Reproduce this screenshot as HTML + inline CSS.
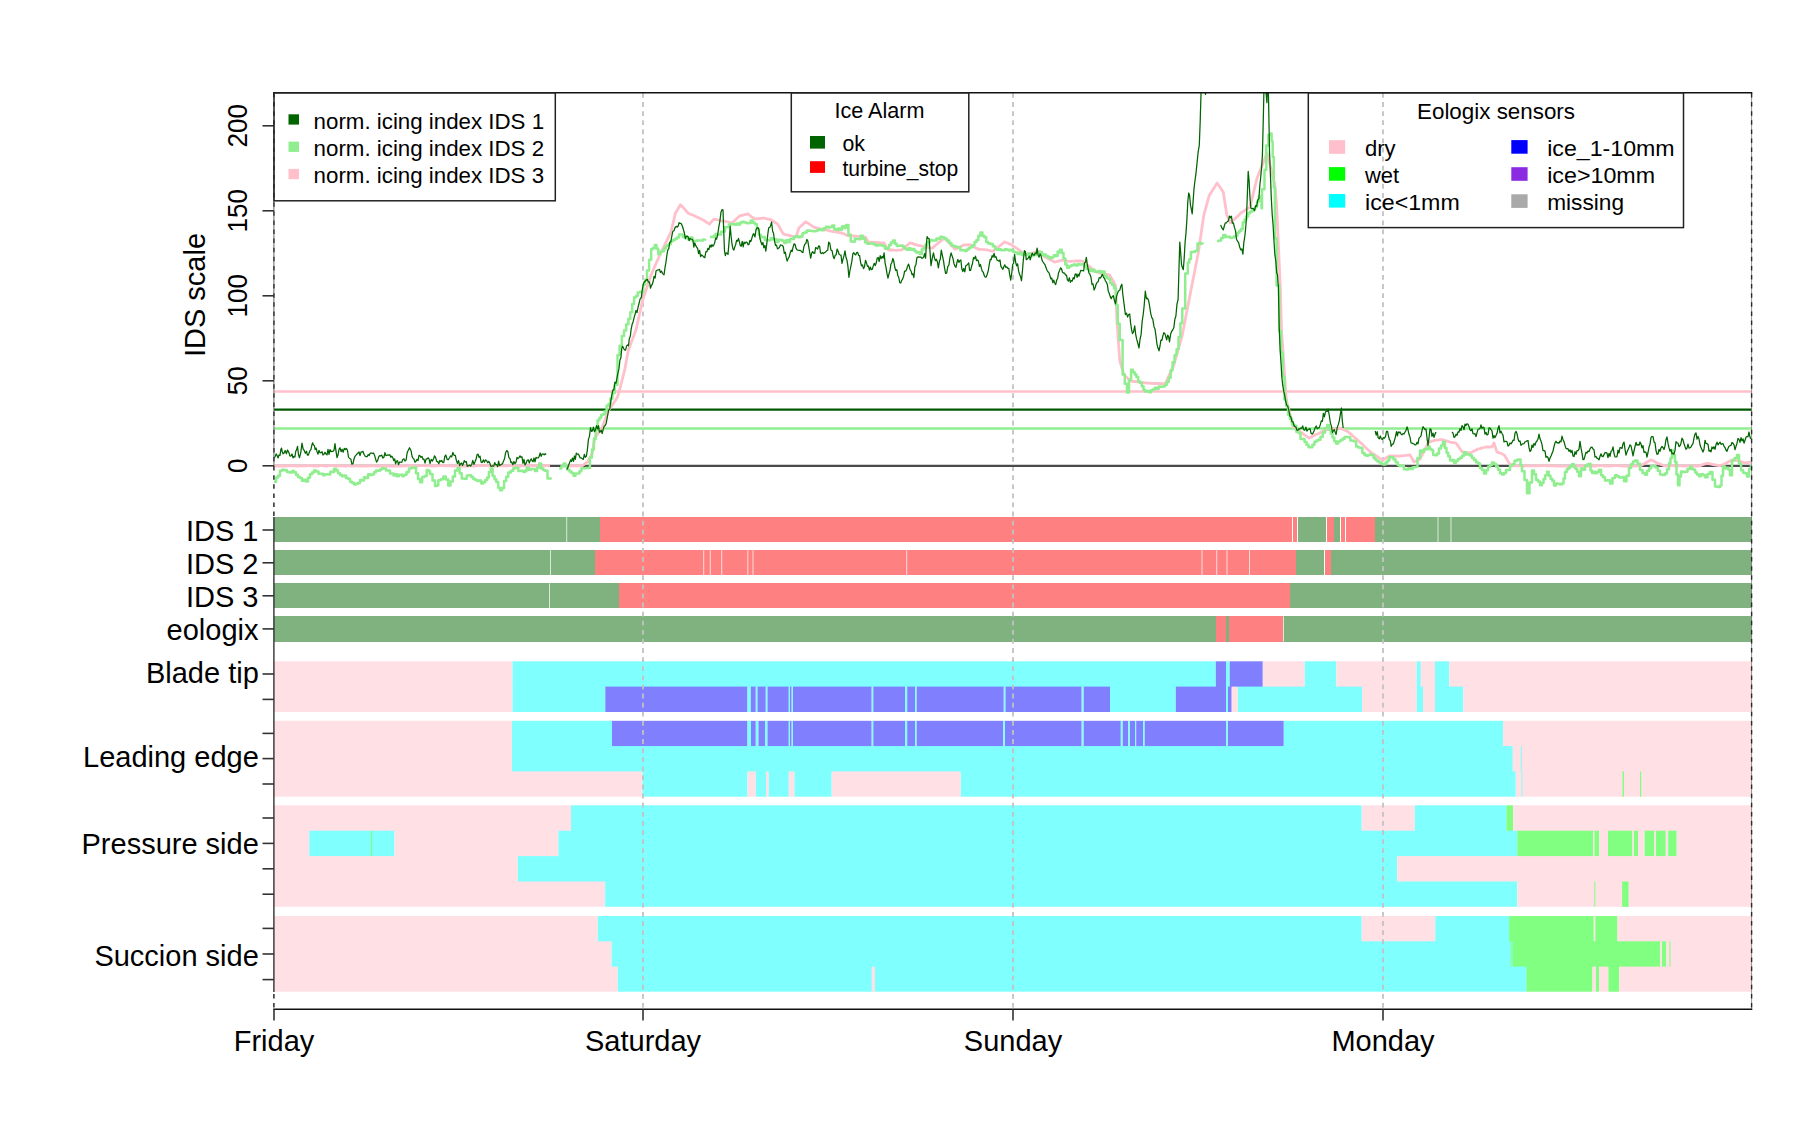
<!DOCTYPE html><html><head><meta charset="utf-8"><style>html,body{margin:0;padding:0;background:#fff;}svg{display:block;}</style></head><body>
<svg width="1800" height="1125" viewBox="0 0 1800 1125" font-family='"Liberation Sans", sans-serif'>
<rect x="0" y="0" width="1800" height="1125" fill="#fff"/>
<g shape-rendering="crispEdges">
<rect x="274" y="517" width="326" height="25.2" fill="#80b280"/>
<rect x="600" y="517" width="692" height="25.2" fill="#ff8080"/>
<rect x="1293" y="517" width="4" height="25.2" fill="#ff8080"/>
<rect x="1298" y="517" width="28" height="25.2" fill="#80b280"/>
<rect x="1326.8" y="517" width="7.2" height="25.2" fill="#ff8080"/>
<rect x="1334" y="517" width="6.3" height="25.2" fill="#80b280"/>
<rect x="1340.7" y="517" width="4.5" height="25.2" fill="#ff8080"/>
<rect x="1345.8" y="517" width="28.9" height="25.2" fill="#ff8080"/>
<rect x="1374.7" y="517" width="377.3" height="25.2" fill="#80b280"/>
<rect x="274" y="550.2" width="321" height="25.2" fill="#80b280"/>
<rect x="595" y="550.2" width="700.5" height="25.2" fill="#ff8080"/>
<rect x="1295.5" y="550.2" width="28.5" height="25.2" fill="#80b280"/>
<rect x="1324.8" y="550.2" width="5.7" height="25.2" fill="#ff8080"/>
<rect x="1330.5" y="550.2" width="421.5" height="25.2" fill="#80b280"/>
<rect x="274" y="583.3" width="345" height="25.1" fill="#80b280"/>
<rect x="619" y="583.3" width="671" height="25.1" fill="#ff8080"/>
<rect x="1290" y="583.3" width="462" height="25.1" fill="#80b280"/>
<rect x="274" y="616.3" width="941.5" height="25.2" fill="#80b280"/>
<rect x="1215.5" y="616.3" width="10.3" height="25.2" fill="#ff8080"/>
<rect x="1225.8" y="616.3" width="3.4" height="25.2" fill="#80b280"/>
<rect x="1229.2" y="616.3" width="54.1" height="25.2" fill="#ff8080"/>
<rect x="1283.3" y="616.3" width="468.7" height="25.2" fill="#80b280"/>
</g>
<rect x="566.2" y="517" width="1" height="25.2" fill="#fff" opacity="0.7"/>
<rect x="1437.5" y="517" width="1" height="25.2" fill="#fff" opacity="0.7"/>
<rect x="1450.5" y="517" width="1" height="25.2" fill="#fff" opacity="0.7"/>
<rect x="550" y="550.2" width="1" height="25.2" fill="#fff" opacity="0.7"/>
<rect x="703.2" y="550.2" width="1" height="25.2" fill="#fff" opacity="0.7"/>
<rect x="709.8" y="550.2" width="1" height="25.2" fill="#fff" opacity="0.7"/>
<rect x="721.2" y="550.2" width="1" height="25.2" fill="#fff" opacity="0.7"/>
<rect x="747.3" y="550.2" width="1" height="25.2" fill="#fff" opacity="0.7"/>
<rect x="752.5" y="550.2" width="1" height="25.2" fill="#fff" opacity="0.7"/>
<rect x="906.2" y="550.2" width="1" height="25.2" fill="#fff" opacity="0.7"/>
<rect x="1201.5" y="550.2" width="1" height="25.2" fill="#fff" opacity="0.7"/>
<rect x="1216.2" y="550.2" width="1" height="25.2" fill="#fff" opacity="0.7"/>
<rect x="1226.5" y="550.2" width="1" height="25.2" fill="#fff" opacity="0.7"/>
<rect x="1249" y="550.2" width="1" height="25.2" fill="#fff" opacity="0.7"/>
<rect x="549" y="583.3" width="1" height="25.1" fill="#fff" opacity="0.7"/>
<rect x="1283" y="616.3" width="1" height="25.2" fill="#fff" opacity="0.7"/>
<g>
<rect x="274" y="661.3" width="238.5" height="26" fill="#ffe0e5"/>
<rect x="512.5" y="661.3" width="703.3" height="26" fill="#80ffff"/>
<rect x="1215.8" y="661.3" width="10.2" height="26" fill="#8080ff"/>
<rect x="1226" y="661.3" width="3.7" height="26" fill="#80ffff"/>
<rect x="1229.7" y="661.3" width="33.1" height="26" fill="#8080ff"/>
<rect x="1262.8" y="661.3" width="41.9" height="26" fill="#ffe0e5"/>
<rect x="1304.7" y="661.3" width="31.6" height="26" fill="#80ffff"/>
<rect x="1336.3" y="661.3" width="80.4" height="26" fill="#ffe0e5"/>
<rect x="1416.7" y="661.3" width="4.1" height="26" fill="#80ffff"/>
<rect x="1420.8" y="661.3" width="14.2" height="26" fill="#ffe0e5"/>
<rect x="1435" y="661.3" width="14.2" height="26" fill="#80ffff"/>
<rect x="1449.2" y="661.3" width="302.8" height="26" fill="#ffe0e5"/>
<rect x="274" y="686.6" width="238.5" height="25.4" fill="#ffe0e5"/>
<rect x="512.5" y="686.6" width="92.8" height="25.4" fill="#80ffff"/>
<rect x="605.3" y="686.6" width="142.2" height="25.4" fill="#8080ff"/>
<rect x="747.5" y="686.6" width="3.3" height="25.4" fill="#80ffff"/>
<rect x="750.8" y="686.6" width="5" height="25.4" fill="#8080ff"/>
<rect x="755.8" y="686.6" width="1.7" height="25.4" fill="#80ffff"/>
<rect x="757.5" y="686.6" width="8.3" height="25.4" fill="#8080ff"/>
<rect x="765.8" y="686.6" width="1.7" height="25.4" fill="#80ffff"/>
<rect x="767.5" y="686.6" width="21.3" height="25.4" fill="#8080ff"/>
<rect x="788.8" y="686.6" width="1.2" height="25.4" fill="#80ffff"/>
<rect x="790" y="686.6" width="1.7" height="25.4" fill="#8080ff"/>
<rect x="791.7" y="686.6" width="1.3" height="25.4" fill="#80ffff"/>
<rect x="793" y="686.6" width="78.7" height="25.4" fill="#8080ff"/>
<rect x="871.7" y="686.6" width="1.6" height="25.4" fill="#80ffff"/>
<rect x="873.3" y="686.6" width="31.7" height="25.4" fill="#8080ff"/>
<rect x="905" y="686.6" width="2.2" height="25.4" fill="#80ffff"/>
<rect x="907.2" y="686.6" width="7.8" height="25.4" fill="#8080ff"/>
<rect x="915" y="686.6" width="1.7" height="25.4" fill="#80ffff"/>
<rect x="916.7" y="686.6" width="87.1" height="25.4" fill="#8080ff"/>
<rect x="1003.8" y="686.6" width="1.7" height="25.4" fill="#80ffff"/>
<rect x="1005.5" y="686.6" width="76.2" height="25.4" fill="#8080ff"/>
<rect x="1081.7" y="686.6" width="2" height="25.4" fill="#80ffff"/>
<rect x="1083.7" y="686.6" width="26.3" height="25.4" fill="#8080ff"/>
<rect x="1110" y="686.6" width="65.8" height="25.4" fill="#80ffff"/>
<rect x="1175.8" y="686.6" width="50.2" height="25.4" fill="#8080ff"/>
<rect x="1226" y="686.6" width="2" height="25.4" fill="#80ffff"/>
<rect x="1228" y="686.6" width="3.7" height="25.4" fill="#8080ff"/>
<rect x="1231.7" y="686.6" width="6.1" height="25.4" fill="#ffe0e5"/>
<rect x="1237.8" y="686.6" width="124.4" height="25.4" fill="#80ffff"/>
<rect x="1362.2" y="686.6" width="54.5" height="25.4" fill="#ffe0e5"/>
<rect x="1416.7" y="686.6" width="6.3" height="25.4" fill="#80ffff"/>
<rect x="1423" y="686.6" width="12" height="25.4" fill="#ffe0e5"/>
<rect x="1435" y="686.6" width="28.3" height="25.4" fill="#80ffff"/>
<rect x="1463.3" y="686.6" width="288.7" height="25.4" fill="#ffe0e5"/>
<rect x="274" y="720.8" width="238" height="26" fill="#ffe0e5"/>
<rect x="512" y="720.8" width="100" height="26" fill="#80ffff"/>
<rect x="612" y="720.8" width="135.5" height="26" fill="#8080ff"/>
<rect x="747.5" y="720.8" width="3.5" height="26" fill="#80ffff"/>
<rect x="751" y="720.8" width="4.8" height="26" fill="#8080ff"/>
<rect x="755.8" y="720.8" width="2.7" height="26" fill="#80ffff"/>
<rect x="758.5" y="720.8" width="6.5" height="26" fill="#8080ff"/>
<rect x="765" y="720.8" width="2.5" height="26" fill="#80ffff"/>
<rect x="767.5" y="720.8" width="21.3" height="26" fill="#8080ff"/>
<rect x="788.8" y="720.8" width="1.2" height="26" fill="#80ffff"/>
<rect x="790" y="720.8" width="1.7" height="26" fill="#8080ff"/>
<rect x="791.7" y="720.8" width="1.3" height="26" fill="#80ffff"/>
<rect x="793" y="720.8" width="78.7" height="26" fill="#8080ff"/>
<rect x="871.7" y="720.8" width="1.6" height="26" fill="#80ffff"/>
<rect x="873.3" y="720.8" width="31.7" height="26" fill="#8080ff"/>
<rect x="905" y="720.8" width="2.2" height="26" fill="#80ffff"/>
<rect x="907.2" y="720.8" width="7.8" height="26" fill="#8080ff"/>
<rect x="915" y="720.8" width="1.7" height="26" fill="#80ffff"/>
<rect x="916.7" y="720.8" width="86.6" height="26" fill="#8080ff"/>
<rect x="1003.3" y="720.8" width="1.7" height="26" fill="#80ffff"/>
<rect x="1005" y="720.8" width="76.7" height="26" fill="#8080ff"/>
<rect x="1081.7" y="720.8" width="2" height="26" fill="#80ffff"/>
<rect x="1083.7" y="720.8" width="37.1" height="26" fill="#8080ff"/>
<rect x="1120.8" y="720.8" width="2" height="26" fill="#80ffff"/>
<rect x="1122.8" y="720.8" width="5.5" height="26" fill="#8080ff"/>
<rect x="1128.3" y="720.8" width="1.7" height="26" fill="#80ffff"/>
<rect x="1130" y="720.8" width="5" height="26" fill="#8080ff"/>
<rect x="1135" y="720.8" width="1.2" height="26" fill="#80ffff"/>
<rect x="1136.2" y="720.8" width="6.8" height="26" fill="#8080ff"/>
<rect x="1143" y="720.8" width="1.7" height="26" fill="#80ffff"/>
<rect x="1144.7" y="720.8" width="81.5" height="26" fill="#8080ff"/>
<rect x="1226.2" y="720.8" width="1.8" height="26" fill="#80ffff"/>
<rect x="1228" y="720.8" width="55.8" height="26" fill="#8080ff"/>
<rect x="1283.8" y="720.8" width="219.2" height="26" fill="#80ffff"/>
<rect x="1503" y="720.8" width="249" height="26" fill="#ffe0e5"/>
<rect x="274" y="746.1" width="238" height="26" fill="#ffe0e5"/>
<rect x="512" y="746.1" width="1000.8" height="26" fill="#80ffff"/>
<rect x="1512.8" y="746.1" width="239.2" height="26" fill="#ffe0e5"/>
<rect x="1520.8" y="746.1" width="1" height="26" fill="#80ffff"/>
<rect x="274" y="771.4" width="368.5" height="25.3" fill="#ffe0e5"/>
<rect x="642.5" y="771.4" width="105" height="25.3" fill="#80ffff"/>
<rect x="747.5" y="771.4" width="8.3" height="25.3" fill="#ffe0e5"/>
<rect x="755.8" y="771.4" width="10.2" height="25.3" fill="#80ffff"/>
<rect x="766" y="771.4" width="2.7" height="25.3" fill="#ffe0e5"/>
<rect x="768.7" y="771.4" width="20.1" height="25.3" fill="#80ffff"/>
<rect x="788.8" y="771.4" width="5.7" height="25.3" fill="#ffe0e5"/>
<rect x="794.5" y="771.4" width="37.2" height="25.3" fill="#80ffff"/>
<rect x="831.7" y="771.4" width="129.1" height="25.3" fill="#ffe0e5"/>
<rect x="960.8" y="771.4" width="555" height="25.3" fill="#80ffff"/>
<rect x="1515.8" y="771.4" width="236.2" height="25.3" fill="#ffe0e5"/>
<rect x="1521.5" y="771.4" width="1" height="25.3" fill="#80ffff"/>
<rect x="1622.5" y="771.4" width="1.5" height="25.3" fill="#80ff80"/>
<rect x="1640" y="771.4" width="1.2" height="25.3" fill="#80ff80"/>
<rect x="274" y="805.3" width="297" height="26.1" fill="#ffe0e5"/>
<rect x="571" y="805.3" width="790.7" height="26.1" fill="#80ffff"/>
<rect x="1361.7" y="805.3" width="53.1" height="26.1" fill="#ffe0e5"/>
<rect x="1414.8" y="805.3" width="91.6" height="26.1" fill="#80ffff"/>
<rect x="1506.4" y="805.3" width="6.8" height="26.1" fill="#80ff80"/>
<rect x="1513.2" y="805.3" width="238.8" height="26.1" fill="#ffe0e5"/>
<rect x="274" y="830.7" width="35.3" height="26.1" fill="#ffe0e5"/>
<rect x="309.3" y="830.7" width="85.2" height="26.1" fill="#80ffff"/>
<rect x="371" y="830.7" width="1.2" height="26.1" fill="#80ff80"/>
<rect x="394.5" y="830.7" width="163.9" height="26.1" fill="#ffe0e5"/>
<rect x="558.4" y="830.7" width="958.9" height="26.1" fill="#80ffff"/>
<rect x="1517.3" y="830.7" width="75.7" height="26.1" fill="#80ff80"/>
<rect x="1593" y="830.7" width="1.5" height="26.1" fill="#ffe0e5"/>
<rect x="1594.5" y="830.7" width="4.8" height="26.1" fill="#80ff80"/>
<rect x="1599.3" y="830.7" width="8.7" height="26.1" fill="#ffe0e5"/>
<rect x="1608" y="830.7" width="24.5" height="26.1" fill="#80ff80"/>
<rect x="1632.5" y="830.7" width="1.5" height="26.1" fill="#ffe0e5"/>
<rect x="1634" y="830.7" width="4" height="26.1" fill="#80ff80"/>
<rect x="1638" y="830.7" width="6.6" height="26.1" fill="#ffe0e5"/>
<rect x="1644.6" y="830.7" width="9.9" height="26.1" fill="#80ff80"/>
<rect x="1654.5" y="830.7" width="1.5" height="26.1" fill="#ffe0e5"/>
<rect x="1656" y="830.7" width="9.8" height="26.1" fill="#80ff80"/>
<rect x="1665.8" y="830.7" width="2.4" height="26.1" fill="#ffe0e5"/>
<rect x="1668.2" y="830.7" width="8.5" height="26.1" fill="#80ff80"/>
<rect x="1676.7" y="830.7" width="75.3" height="26.1" fill="#ffe0e5"/>
<rect x="274" y="856.1" width="243.8" height="26.1" fill="#ffe0e5"/>
<rect x="517.8" y="856.1" width="879.4" height="26.1" fill="#80ffff"/>
<rect x="1397.2" y="856.1" width="354.8" height="26.1" fill="#ffe0e5"/>
<rect x="274" y="881.5" width="331.1" height="25.3" fill="#ffe0e5"/>
<rect x="605.1" y="881.5" width="912.2" height="25.3" fill="#80ffff"/>
<rect x="1517.3" y="881.5" width="234.7" height="25.3" fill="#ffe0e5"/>
<rect x="1594.3" y="881.5" width="1" height="25.3" fill="#80ff80"/>
<rect x="1622.1" y="881.5" width="6.4" height="25.3" fill="#80ff80"/>
<rect x="274" y="916" width="323.8" height="26" fill="#ffe0e5"/>
<rect x="597.8" y="916" width="763.9" height="26" fill="#80ffff"/>
<rect x="1361.7" y="916" width="73.6" height="26" fill="#ffe0e5"/>
<rect x="1435.3" y="916" width="73.8" height="26" fill="#80ffff"/>
<rect x="1509.1" y="916" width="84.7" height="26" fill="#80ff80"/>
<rect x="1593.8" y="916" width="1.5" height="26" fill="#ffe0e5"/>
<rect x="1595.3" y="916" width="22.2" height="26" fill="#80ff80"/>
<rect x="1617.5" y="916" width="134.5" height="26" fill="#ffe0e5"/>
<rect x="274" y="941.3" width="337.6" height="26" fill="#ffe0e5"/>
<rect x="611.6" y="941.3" width="898.6" height="26" fill="#80ffff"/>
<rect x="1510.2" y="941.3" width="150.1" height="26" fill="#80ff80"/>
<rect x="1511.3" y="941.3" width="1.2" height="26" fill="#80ffff"/>
<rect x="1660.3" y="941.3" width="1.7" height="26" fill="#ffe0e5"/>
<rect x="1662" y="941.3" width="4.4" height="26" fill="#80ff80"/>
<rect x="1666.4" y="941.3" width="85.6" height="26" fill="#ffe0e5"/>
<rect x="1669.5" y="941.3" width="1" height="26" fill="#80ff80"/>
<rect x="274" y="966.6" width="343.8" height="25.1" fill="#ffe0e5"/>
<rect x="617.8" y="966.6" width="908.6" height="25.1" fill="#80ffff"/>
<rect x="871.6" y="966.6" width="3.3" height="25.1" fill="#ffe0e5"/>
<rect x="1526.4" y="966.6" width="66.1" height="25.1" fill="#80ff80"/>
<rect x="1592.5" y="966.6" width="3.5" height="25.1" fill="#ffe0e5"/>
<rect x="1596" y="966.6" width="3" height="25.1" fill="#80ff80"/>
<rect x="1599" y="966.6" width="9.4" height="25.1" fill="#ffe0e5"/>
<rect x="1608.4" y="966.6" width="10.9" height="25.1" fill="#80ff80"/>
<rect x="1619.3" y="966.6" width="132.7" height="25.1" fill="#ffe0e5"/>
</g>
<line x1="643" y1="93" x2="643" y2="1009.5" stroke="#c2c2c2" stroke-width="1.8" stroke-dasharray="4.8 4.3"/>
<line x1="1013" y1="93" x2="1013" y2="1009.5" stroke="#c2c2c2" stroke-width="1.8" stroke-dasharray="4.8 4.3"/>
<line x1="1383" y1="93" x2="1383" y2="1009.5" stroke="#c2c2c2" stroke-width="1.8" stroke-dasharray="4.8 4.3"/>
<line x1="274" y1="465.9" x2="1752" y2="465.9" stroke="#4a4a4a" stroke-width="2.1"/>
<line x1="274" y1="391.4" x2="1752" y2="391.4" stroke="#ffc0cb" stroke-width="2.5"/>
<line x1="274" y1="409.7" x2="1752" y2="409.7" stroke="#005a00" stroke-width="2.3"/>
<line x1="274" y1="428.5" x2="1752" y2="428.5" stroke="#90ee90" stroke-width="2.5"/>
<clipPath id="pc"><rect x="274" y="93" width="1478" height="420"/></clipPath>
<g clip-path="url(#pc)" fill="none" stroke-linejoin="round">
<polyline points="274,465.9 276,465.9 278,466 280,466.1 282,466 284,466 286,466 288,465.9 290,465.8 292,465.7 294,465.9 296,466 298,466.1 300,465.9 302,465.9 304,465.8 306,465.8 308,465.7 310,465.7 312,465.8 314,466 316,466 318,466.1 320,465.6 322,465.4 324,465.8 326,466 328,465.9 330,465.7 332,465.7 334,465.6 336,465.8 338,466 340,465.9 342,465.9 344,466 346,466 348,465.9 350,465.9 352,466 354,465.9 356,465.9 358,465.9 360,466.1 362,466.1 364,466.1 366,466 368,465.9 370,465.9 372,465.9 374,465.9 376,466 378,465.9 380,466 382,465.9 384,466 386,466.2 388,466.1 390,466 392,466 394,466 396,466.2 398,466.1 400,466 402,466 404,465.9 406,465.8 408,465.9 410,465.9 412,466 414,466 416,465.9 418,465.9 420,465.7 422,465.7 424,465.7 426,465.8 428,465.8 430,465.9 432,466 434,466 436,465.9 438,465.7 440,465.6 442,465.6 444,465.7 446,465.9 448,465.9 450,465.9 452,465.9 454,466 456,466 458,466 460,466 462,466 464,465.9 466,466 468,465.9 470,465.9 472,466 474,466 476,465.8 478,465.6 480,465.6 482,465.6 484,465.7 486,465.7 488,465.7 490,465.8 492,465.9 494,466 496,465.9 498,465.9 500,465.8 502,465.8 504,465.8 506,465.8 508,465.8 510,465.7 512,465.7 514,465.9 516,466 518,466.2 520,466 522,465.9 524,465.9 526,465.8 528,466 530,465.9 532,465.9 534,465.7 536,465.7 538,465.9 540,466.1 542,466.2 544,466 546,465.7 548,465.6 550,465.9" stroke="#ffc0cb" stroke-width="2.8"/>
<polyline points="562,465.9 564,466 566,466.1 568,466.1 570,466 572,465.9 574,465.8 576,465.7 578,465.8 580,465.8 582,466 583.9,464.5 585.8,463.2 587.7,461.7 589.9,457.8 592,453.7 594.8,438 596.6,435.4 598.4,433 600.2,430.5 602,427.9 603.8,423.3 605.5,418.7 607.2,414.1 609,409.6 611.1,406.6 613.2,403.5 615.4,400.4 617.5,397.1 620.4,387 622.5,378.4 624.7,369.9 626.5,360 628.4,349.9 630.3,344.9 632.2,339.9 634.1,335 636,329.8 638.2,319.9 640.5,309.8 642.7,299.9 644.8,293.5 647,287.3 649.1,280.9 651.2,274.7 653.3,269.7 655.5,264.8 657.6,260 659.7,255.1 661.6,251.2 663.5,247.3 665.4,243.5 667.2,239.8 669.1,235.9 671,232.1 673.2,222.6 675.4,213.2 677.9,209 680.4,204.8 682.4,206.6 684.3,208.7 686.2,211 688.2,213.2 690.1,214.1 692,214.8 693.9,215.5 695.8,216.4 697.7,217.4 699.6,218.2 701.6,219.3 703.6,220.3 705.5,221.5 707.5,222.9 709.5,224.2 711.6,221.7 713.8,219.2 715.9,219.4 717.9,220 720,220.5 722,221 724.1,221.2 726.1,221.5 728.2,222.1 730.2,222.6 732.3,222.9 734.1,221 735.8,219.4 737.6,217.7 739.4,216.1 741.5,215.4 743.7,215 745.9,214.3 748,213.9 749.9,215.5 751.7,216.9 753.6,218 755,218.9 757.2,218.8 759.4,218.5 761.6,218.3 763.8,218 766.1,218.6 768.3,219.1 770.6,219.6 772.9,221 775.2,222.5 777.5,223.9 779.5,227.3 781.4,230.7 783.4,234 785.5,234.6 787.6,235 789.7,235.6 791.8,236.1 793.9,236.6 796,237 797.5,232.3 799,227.7 801.3,225.7 803.5,223.7 805.8,221.8 807.8,223.1 809.8,224.4 811.7,225.7 813.7,227.1 815.7,227.6 817.6,228.1 819.5,228.6 821.5,229 823.5,229.5 825.4,229.9 827.4,230.2 829.3,230.8 831.2,231.2 833.2,231.5 835.1,231.9 837.1,232.2 839,232.5 841,232.8 843.3,233.5 845.6,234.6 847.9,235.6 849.9,235.8 851.8,235.9 853.8,236 855.7,236.2 857.7,236.4 859.6,236.7 861.6,236.9 863.5,237 865.5,237.2 868.4,242.1 870.4,242.1 872.3,242.1 874.3,242.3 876.2,242.5 878.2,242.5 880.2,242.8 882.1,242.9 884.1,243 886,246.5 888,249.9 890,250 891.9,250 893.9,250.2 895.8,250.3 897.8,250.2 899.7,250.1 901.7,249.9 903.6,248.4 905.6,246.6 907.5,245 910,242.8 912,243.4 913.9,244.1 915.9,244.7 917.8,245.3 919.8,245.7 921.9,246.1 924,246.6 926.1,247 928.3,247.5 930.4,247.8 932.5,248.1 934.5,246.3 936.4,244.4 938.4,242.8 940.3,241.3 942.2,239.8 944.2,238.2 946.4,240.2 948.5,242.4 950.7,244.7 952.8,246.9 955,249.2 957.2,248.2 959.4,247.2 961.6,246.1 963.8,244.9 966.1,244.8 968.3,244.7 970.6,244.8 972.5,246 974.5,247.2 976.5,248.2 978.4,249.3 980.5,249.4 982.6,249.6 984.7,249.6 986.8,249.9 988.9,250.3 991,250.8 993.1,251.1 995,249.5 997,247.9 999,246.5 1000.9,245 1002.8,243.4 1004.8,242 1006.8,242.8 1008.7,243.6 1010.7,244.3 1013,245.8 1015.3,247.3 1017.6,248.8 1019.6,250.4 1021.5,252 1023.5,253.5 1025.4,254.8 1027.3,254.2 1029.3,253.7 1031.2,253.3 1033.2,252.9 1035.1,252.4 1037.1,251.8 1039,251.1 1041,253.1 1042.9,254.9 1044.9,257 1046.9,257.8 1048.8,259 1050.8,259.9 1052.7,261 1054.7,262 1056.7,261.6 1058.6,261.1 1060.5,260.6 1062.5,260.1 1064.5,260.5 1066.5,260.9 1068.5,261.3 1070.5,261.3 1072.6,261.1 1074.6,261 1076.7,260.8 1078.7,261 1080.8,260.9 1082.8,261.1 1084.9,262.8 1087.1,264.8 1089.2,266.4 1091.3,268.2 1093.5,269.8 1095.6,271.6 1097.6,272.3 1099.7,273 1101.7,273.6 1103.7,273.8 1105.7,274.2 1107.8,274.6 1109.8,275.2 1111.7,278.4 1113.6,281.8 1115.5,285.1 1116.9,320.2 1119.7,360.1 1121.8,367.5 1124,375 1125.8,376.5 1127.5,378.1 1129.3,379.6 1131.1,381.1 1133.1,381.5 1135.2,381.5 1137.2,381.8 1139.2,382.1 1141.2,382.4 1143.3,382.7 1145.3,382.9 1147.3,383.1 1149.3,383.2 1151.3,383.3 1153.3,383.5 1155.3,383.5 1157.3,383.6 1159.3,383.5 1161.3,383.6 1163.3,383.7 1165.3,383.8 1167.4,379.1 1169.5,374.5 1171.7,369.8 1173.8,365.1 1175.9,357.7 1178,350.2 1180.2,342.6 1182.3,334.9 1184.5,323.6 1186.6,312.6 1188.8,301.5 1190.9,290.2 1192.8,280.7 1194.7,271.2 1196.5,261.7 1198.4,252.3 1200.2,239.9 1202,227.4 1203.8,215.1 1205.6,208.6 1207.3,202.3 1209.1,195.8 1211.1,192.6 1213.1,189.5 1215.1,186.3 1217.1,183 1219.2,186 1221.2,189.1 1223.3,192.2 1225.1,203.7 1226.9,215.2 1228.7,219 1230.4,222.9 1232.5,220.8 1234.7,219 1236.8,217 1239,214.9 1241.1,212.8 1243.3,211.4 1245.5,209.9 1247.8,208.3 1250,206.8 1251.8,199.7 1253.5,192.5 1255.3,185.3 1257.1,177.9 1258.9,173.6 1260.6,169.2 1262.4,164.8 1264.7,158.9 1266.9,152.7 1269.1,161.3 1271.3,169.9 1273.1,177.4 1274.9,185.1 1276.6,205.1 1278.4,245.1 1280.2,285.1 1281.5,330 1283.9,365.1 1286.3,400 1288.1,406.8 1289.8,413.6 1291.6,420.4 1293.4,427.1 1295.4,428.4 1297.4,429.7 1299.4,431 1301.4,432.5 1303.4,434.1 1305.4,435.4 1307.4,436.8 1309.4,438.1 1311.4,437 1313.4,435.8 1315.4,434.7 1317.4,434 1319.4,433.2 1321.4,432.1 1323.4,431 1325.4,430 1327.4,429.7 1329.5,429.4 1331.5,428.9 1333.5,428.8 1335.5,428.7 1337.6,428.5 1339.6,428.1 1341.8,428.9 1344,429.7 1346.3,430.8 1348.5,431.9 1350.6,433.9 1352.7,435.8 1354.8,437.7 1356.8,439.4 1358.9,441.2 1361,443.1 1363.1,445.1 1365.2,447.3 1367.4,449.3 1369.5,451.1 1371.6,452.9 1373.7,454.2 1375.9,455.7 1378,457.1 1380.2,458.7 1382.3,460.1 1384.1,459.2 1385.8,458.1 1387.6,457 1389.4,456 1391.5,455.9 1393.6,456 1395.8,456 1397.9,456.1 1400,456 1402,455.9 1404,455.6 1406,455.4 1408,455.1 1410,455 1412,458.4 1414,462 1416,460.9 1418,460.1 1420,459 1422,455.1 1424,451.1 1426,447 1428,443.1 1430,442 1432,441 1434,440.6 1436,440.2 1438,440.1 1440,439.7 1442,439.6 1444,440.2 1446,440.8 1448,441.4 1450,442 1452,442.5 1454,442.7 1456,443.1 1458,445.8 1460,448.8 1462,451.8 1464,452.1 1466,452.4 1468,452.7 1470,453 1472,452.1 1474,451 1476,450.1 1478,449 1480,448.6 1482,447.9 1484,447.5 1486,446.9 1488,447 1490,447 1492,446.8 1494,443 1495.5,447.6 1497,452.1 1498.8,452.7 1500.5,453.3 1502.2,454 1504,454.7 1505.8,457.6 1507.5,460.4 1509.2,463.2 1511,465.9 1513,465.8 1515,465.8 1517,465.6 1519.1,465.8 1521.1,465.8 1523.1,466 1525.1,465.9 1527.1,465.9 1529.1,465.9 1531.2,465.8 1533.2,465.9 1535.2,465.9 1537.2,465.9 1539.2,465.8 1541.2,465.6 1543.2,465.7 1545.3,465.7 1547.3,465.8 1549.3,465.7 1551.3,465.8 1553.3,465.8 1555.3,465.9 1557.4,466 1559.4,466.2 1561.4,466.1 1563.4,466.1 1565.4,466.1 1567.4,466.1 1569.5,466.1 1571.5,466.1 1573.5,466.1 1575.5,466 1577.5,465.9 1579.5,466 1581.5,466 1583.6,465.9 1585.6,466 1587.6,466 1589.6,466 1591.6,466 1593.6,466 1595.7,466 1597.7,465.7 1599.7,465.6 1601.7,465.7 1603.7,465.9 1605.7,466.1 1607.8,466.2 1609.8,466 1611.8,465.8 1613.8,465.6 1615.8,465.7 1617.8,465.7 1619.8,465.8 1621.9,465.9 1623.9,466 1625.9,466.1 1627.9,466.1 1629.9,466.1 1631.9,466.1 1634,466 1636,465.9 1638,465.9 1640,465.9 1641.8,465 1643.7,464.1 1645.5,463 1647.3,462 1649.2,460.9 1651,459.9 1653,460.8 1655,461.8 1657,463 1659,463.9 1661,464.5 1663,465.2 1665,466 1666.9,466.1 1668.9,465.9 1670.8,465.7 1672.8,465.7 1674.7,465.8 1676.7,465.8 1678.6,465.8 1680.6,465.9 1682.5,466 1684.4,466 1686.4,466 1688.3,465.8 1690.3,465.9 1692.2,466 1694.2,466.2 1696.1,466.2 1698.1,466 1700,465.8 1701.8,464.9 1703.5,464.4 1705.2,463.8 1707,463.3 1709.2,463.7 1711.3,464.2 1713.5,464.6 1715.7,465 1717.8,465.3 1720,465.8 1722,465 1724,464.2 1726,463.2 1728,462 1730,461.1 1732,460 1733.8,460.2 1735.5,460.4 1737.2,460.6 1739,461 1741,461.6 1743,462.3 1745,462.9 1747,462.5 1749,462.3 1751,462" stroke="#ffc0cb" stroke-width="2.8"/>
<polyline points="274,481.7 276,481.7 276,477.5 278,477.5 278,475.8 280,475.8 280,470.7 282,470.7 282,469.7 284.5,469.7 284.5,470.3 287,470.3 287,471.9 289.5,471.9 289.5,472.6 292,472.6 292,470.9 294,470.9 294,472.2 296,472.2 296,474.8 298,474.8 298,477.1 300,477.1 300,478 302,478 302,480.8 304,480.8 304,479.7 306,479.7 306,481.6 308,481.6 308,477.8 310,477.8 310,474.2 312,474.2 312,472.5 314,472.5 314,470.6 316.2,470.6 316.2,471.6 318.5,471.6 318.5,473.7 320.8,473.7 320.8,473.7 323,473.7 323,475.3 324.8,475.3 324.8,474.2 326.7,474.2 326.7,474.3 328.5,474.3 328.5,474.4 330.3,474.4 330.3,471.8 332.2,471.8 332.2,472.1 334,472.1 334,468.8 336,468.8 336,470.5 338,470.5 338,473.2 340,473.2 340,474.9 342,474.9 342,476.3 344,476.3 344,475.5 346,475.5 346,478.1 348,478.1 348,478.7 350,478.7 350,481.8 352,481.8 352,482.8 354,482.8 354,484.6 356,484.6 356,483.7 358,483.7 358,483.1 360,483.1 360,480.1 362,480.1 362,480.6 364,480.6 364,477.2 366,477.2 366,477.9 368,477.9 368,474.2 370,474.2 370,475 372,475 372,474.4 374,474.4 374,472.2 376,472.2 376,470.4 378,470.4 378,470.8 380,470.8 380,469.6 382,469.6 382,468.2 384,468.2 384,468.5 386,468.5 386,470.5 388,470.5 388,470.4 390,470.4 390,473.6 391.8,473.6 391.8,473.6 393.5,473.6 393.5,475.6 395.2,475.6 395.2,474.2 397,474.2 397,476.3 398.8,476.3 398.8,474.7 400.5,474.7 400.5,474.8 402.2,474.8 402.2,476.2 404,476.2 404,474.8 406.5,474.8 406.5,472 409,472 409,468.6 411.5,468.6 411.5,467.7 414,467.7 414,467.5 416,467.5 416,473.3 418,473.3 418,478.9 420,478.9 420,482.3 422.2,482.3 422.2,477.1 424.5,477.1 424.5,476 426.7,476 426.7,470.1 428.4,470.1 428.4,471 430,471 430,474 432.5,474 432.5,480.6 435,480.6 435,486.1 436.6,486.1 436.6,485.6 438.3,485.6 438.3,480.3 440.8,480.3 440.8,479.2 443.3,479.2 443.3,476.5 445.8,476.5 445.8,479.4 448.3,479.4 448.3,485.4 450.5,485.4 450.5,481.5 452.8,481.5 452.8,476.4 455,476.4 455,470.6 457.5,470.6 457.5,467.9 459.6,467.9 459.6,473.3 461.7,473.3 461.7,478.4 464.2,478.4 464.2,478.7 466.7,478.7 466.7,475.4 468.9,475.4 468.9,475.2 471.1,475.2 471.1,477.1 473.3,477.1 473.3,478.9 475.3,478.9 475.3,480 477.3,480 477.3,480.9 479.3,480.9 479.3,480.5 481.3,480.5 481.3,483.6 483.3,483.6 483.3,482.2 485.2,482.2 485.2,479.9 487.1,479.9 487.1,477.5 488.9,477.5 488.9,472.1 490.8,472.1 490.8,468.5 492.6,468.5 492.6,475.9 494.5,475.9 494.5,479.2 496.3,479.2 496.3,481.9 498.2,481.9 498.2,487.7 500,487.7 500,490.2 502.1,490.2 502.1,488 504.1,488 504.1,481 506.2,481 506.2,476.8 508.3,476.8 508.3,472.6 510.8,472.6 510.8,470.7 513.3,470.7 513.3,468.2 515.8,468.2 515.8,467.7 518.3,467.7 518.3,470.9 520.8,470.9 520.8,470.7 523.3,470.7 523.3,471.9 525,471.9 525,470.8 526.7,470.8 526.7,467.7 528.8,467.7 528.8,469.7 530.9,469.7 530.9,469 532.9,469 532.9,468.9 535,468.9 535,471 537.1,471 537.1,467.8 539.2,467.8 539.2,463.5 541.1,463.5 541.1,468.4 543.1,468.4 543.1,469.9 545,469.9 545,470.8 547.5,470.8 547.5,478.4 549.1,478.4 549.1,478.4 550.8,478.4 550.8,477.5" stroke="#90ee90" stroke-width="2.5"/>
<polyline points="559.2,468.5 561.4,468.5 561.4,466.2 563.5,466.2 563.5,463.4 565.5,463.4 565.5,466.3 567.5,466.3 567.5,469.8 569.5,469.8 569.5,471.6 571.5,471.6 571.5,472.9 573.5,472.9 573.5,475.8 575.5,475.8 575.5,473.4 577.5,473.4 577.5,473.4 579.4,473.4 579.4,471.2 581.4,471.2 581.4,468.2 583.4,468.2 583.4,468.2 585.5,468.2 585.5,467.9 587.7,467.9 587.7,468.1 589.9,468.1 589.9,457.6 592,457.6 592,449.6 593.9,449.6 593.9,438.7 595.7,438.7 595.7,429.7 597.6,429.7 597.6,420.2 599.4,420.2 599.4,417.8 601.2,417.8 601.2,415 602.9,415 602.9,414.3 604.7,414.3 604.7,411.5 606.6,411.5 606.6,405.8 608.5,405.8 608.5,403.9 610.4,403.9 610.4,398.6 612.5,398.6 612.5,393 614.7,393 614.7,384.7 617.5,384.7 617.5,355.1 619.6,355.1 619.6,345.8 621.8,345.8 621.8,335.9 624,335.9 624,330.6 626.2,330.6 626.2,324.3 628.4,324.3 628.4,318.7 630.3,318.7 630.3,312.3 632.2,312.3 632.2,304.1 634.1,304.1 634.1,297.3 635.9,297.3 635.9,296 637.7,296 637.7,292.5 639.5,292.5 639.5,292 641.3,292 641.3,291.7 643.2,291.7 643.2,284.4 645.1,284.4 645.1,279.8 647,279.8 647,270.4 649.1,270.4 649.1,259.7 651.2,259.7 651.2,249.1 653,249.1 653,247.9 654.8,247.9 654.8,245 656.5,245 656.5,248.7 658.3,248.7 658.3,254.3 660.2,254.3 660.2,251.8 662.1,251.8 662.1,251.3 664,251.3 664,248.5 665.8,248.5 665.8,246 667.5,246 667.5,245.3 669.2,245.3 669.2,243.9 671,243.9 671,241 673,241 673,240.1 675,240.1 675,238.8 677,238.8 677,237.5 679,237.5 679,234.6 681,234.6 681,234.6 682.8,234.6 682.8,236.9 684.6,236.9 684.6,236.5 686.4,236.5 686.4,238.2 688.2,238.2 688.2,239.5 690.3,239.5 690.3,237.5 692.5,237.5 692.5,240.7 694.6,240.7 694.6,241 696.7,241 696.7,240.4 698.9,240.4 698.9,240.4 701,240.4 701,240.5 703.1,240.5 703.1,239.6 705.3,239.6 705.3,239" stroke="#90ee90" stroke-width="2.5"/>
<polyline points="710,237 711.9,237 711.9,237 713.8,237 713.8,235.7 715.6,235.7 715.6,234 717.4,234 717.4,234.6 719.2,234.6 719.2,234.5 721,234.5 721,231.8 723,231.8 723,231.5 725,231.5 725,227.3 726.9,227.3 726.9,227.3 728.9,227.3 728.9,224.6 730.9,224.6 730.9,224 732.8,224 732.8,224.2 734.7,224.2 734.7,224.8 736.5,224.8 736.5,223.6 738.4,223.6 738.4,224.5 740.3,224.5 740.3,222.6 742.2,222.6 742.2,221.8 744.4,221.8 744.4,222.6 746.5,222.6 746.5,223.2 748.6,223.2 748.6,222.9 750.8,222.9 750.8,220.5 752.9,220.5 752.9,222.7 755,222.7 755,224.2 757,224.2 757,229.2 758.9,229.2 758.9,234.8 760.9,234.8 760.9,237.3 762.9,237.3 762.9,236.9 764.8,236.9 764.8,239.9 766.8,239.9 766.8,240.2 768.7,240.2 768.7,240.2 770.6,240.2 770.6,238.2 772.6,238.2 772.6,239.2 774.5,239.2 774.5,239.3 776.5,239.3 776.5,242 778.5,242 778.5,239.8 780.4,239.8 780.4,240.1 782.3,240.1 782.3,240.8 784.3,240.8 784.3,242.9 786.2,242.9 786.2,240.2 788.2,240.2 788.2,241.9 790.1,241.9 790.1,238.9 792.1,238.9 792.1,239.1 794,239.1 794,236.8 796,236.8 796,236.3 798.2,236.3 798.2,237.2 800.3,237.2 800.3,236.6 802.5,236.6 802.5,233.2 804.6,233.2 804.6,232.5 806.8,232.5 806.8,230.6 808.9,230.6 808.9,230.7 811,230.7 811,231.1 813.1,231.1 813.1,231.2 815.2,231.2 815.2,231.1 817.3,231.1 817.3,230.1 819.4,230.1 819.4,229.2 821.5,229.2 821.5,230.2 823.8,230.2 823.8,228.2 826,228.2 826,226.8 828.3,226.8 828.3,227.5 830.3,227.5 830.3,226.9 832.2,226.9 832.2,225.6 834.2,225.6 834.2,229.3 836.1,229.3 836.1,229.9 838.1,229.9 838.1,228.6 840.1,228.6 840.1,229.8 842,229.8 842,226.2 844,226.2 844,228.1 846,228.1 846,224.9 848.4,224.9 848.4,234.7 850.8,234.7 850.8,241.6 852.8,241.6 852.8,241.7 854.7,241.7 854.7,238.8 856.7,238.8 856.7,239.1 858.6,239.1 858.6,239.2 860.6,239.2 860.6,235.8 862.9,235.8 862.9,238.7 865.1,238.7 865.1,242.5 867.4,242.5 867.4,243.8 869.5,243.8 869.5,243.6 871.7,243.6 871.7,243.4 873.8,243.4 873.8,244.5 875.9,244.5 875.9,245.5 878.1,245.5 878.1,244.9 880.2,244.9 880.2,245.3 882.6,245.3 882.6,246 885,246 885,248.7 887,248.7 887,248.2 889,248.2 889,244.9 890.9,244.9 890.9,242.4 892.9,242.4 892.9,240.6 894.9,240.6 894.9,243.7 896.8,243.7 896.8,246 898.8,246 898.8,245.7 900.7,245.7 900.7,245.4 902.7,245.4 902.7,246.6 904.6,246.6 904.6,248.7 906.6,248.7 906.6,249.7 908.5,249.7 908.5,248.3 910.5,248.3 910.5,249.8 912.4,249.8 912.4,248.9 914.4,248.9 914.4,251.1 916.2,251.1 916.2,252.5 918,252.5 918,252.3 919.8,252.3 919.8,253.9 921.8,253.9 921.8,249.4 923.7,249.4 923.7,248 925.6,248 925.6,244.7 927.6,244.7 927.6,242.3 929.9,242.3 929.9,240 932.1,240 932.1,240.5 934.4,240.5 934.4,240.4 936.4,240.4 936.4,238.5 938.3,238.5 938.3,239 940.3,239 940.3,236.7 942.2,236.7 942.2,237.3 944.2,237.3 944.2,238.4 946.7,238.4 946.7,240.5 949.1,240.5 949.1,243 951.4,243 951.4,245.5 953.7,245.5 953.7,246.3 956,246.3 956,247 958.2,247 958.2,247.6 960.4,247.6 960.4,250.2 962.6,250.2 962.6,250.2 964.8,250.2 964.8,251 966.7,251 966.7,249.6 968.7,249.6 968.7,247.9 970.6,247.9 970.6,247 972.6,247 972.6,245.3 974.5,245.3 974.5,242.1 976.5,242.1 976.5,239.9 978.4,239.9 978.4,235.8 980.4,235.8 980.4,232.6 982.4,232.6 982.4,235.7 984.3,235.7 984.3,237.2 986.2,237.2 986.2,242 988.2,242 988.2,243.4 990.5,243.4 990.5,244 992.8,244 992.8,246.3 995.1,246.3 995.1,249.1 997,249.1 997,249.8 999,249.8 999,249.3 1001,249.3 1001,250.2 1002.9,250.2 1002.9,250.3 1004.8,250.3 1004.8,249.2 1006.8,249.2 1006.8,249.7 1009,249.7 1009,250.5 1011.1,250.5 1011.1,249.8 1013.3,249.8 1013.3,252.1 1015.4,252.1 1015.4,252.6 1017.6,252.6 1017.6,253.9 1019.7,253.9 1019.7,252.8 1021.8,252.8 1021.8,255.1 1023.9,255.1 1023.9,254.6 1025.9,254.6 1025.9,254.4 1028,254.4 1028,253.6 1030.1,253.6 1030.1,256.1 1032.2,256.1 1032.2,255.6 1034.2,255.6 1034.2,254.9 1036.1,254.9 1036.1,253 1038,253 1038,252.5 1040,252.5 1040,252 1042,252 1042,255.2 1043.9,255.2 1043.9,254.5 1045.9,254.5 1045.9,256.1 1047.9,256.1 1047.9,256.9 1049.8,256.9 1049.8,258.2 1051.8,258.2 1051.8,257.3 1053.8,257.3 1053.8,255.3 1055.7,255.3 1055.7,256 1057.6,256 1057.6,251.6 1059.6,251.6 1059.6,252.6 1060,252.6 1060,249.7 1061.8,249.7 1061.8,253 1063.5,253 1063.5,258.4 1065.3,258.4 1065.3,264.4 1067.1,264.4 1067.1,267.7 1069.2,267.7 1069.2,266.2 1071.4,266.2 1071.4,265.3 1073.5,265.3 1073.5,264.6 1075.6,264.6 1075.6,265.6 1077.8,265.6 1077.8,264.2 1079.9,264.2 1079.9,264.6 1082,264.6 1082,264.3 1084.2,264.3 1084.2,266.3 1086.3,266.3 1086.3,268.7 1088.4,268.7 1088.4,269.4 1090.4,269.4 1090.4,270.9 1092.5,270.9 1092.5,269.8 1094.5,269.8 1094.5,271.7 1096.6,271.7 1096.6,271.7 1098.6,271.7 1098.6,271.1 1100.7,271.1 1100.7,272.4 1102.7,272.4 1102.7,271.5 1104.6,271.5 1104.6,275.8 1106.5,275.8 1106.5,277.8 1108.3,277.8 1108.3,278.8 1110.2,278.8 1110.2,283.1 1112.1,283.1 1112.1,284.9 1114,284.9 1114,288.2 1115.9,288.2 1115.9,305.3 1117.8,305.3 1117.8,323.7 1119.7,323.7 1119.7,340.1 1122.6,340.1 1122.6,374.5 1124.8,374.5 1124.8,383.8 1126.9,383.8 1126.9,392.4 1129,392.4 1129,380.1 1131.1,380.1 1131.1,369.7 1132.9,369.7 1132.9,372.3 1134.7,372.3 1134.7,374.5 1136.4,374.5 1136.4,377 1138.2,377 1138.2,381.4 1140,381.4 1140,382.7 1141.8,382.7 1141.8,386.3 1143.5,386.3 1143.5,390.1 1145.3,390.1 1145.3,391.6 1147.2,391.6 1147.2,391.1 1149.1,391.1 1149.1,392.2 1151,392.2 1151,390.3 1152.9,390.3 1152.9,389.5 1154.8,389.5 1154.8,387.7 1156.7,387.7 1156.7,388.8 1158.7,388.8 1158.7,386.6 1160.7,386.6 1160.7,386.7 1162.7,386.7 1162.7,386.5 1164.7,386.5 1164.7,385.1 1166.7,385.1 1166.7,382.1 1168.7,382.1 1168.7,377.8 1170.7,377.8 1170.7,370.3 1172.6,370.3 1172.6,362.2 1174.6,362.2 1174.6,355.1 1176.6,355.1 1176.6,349.2 1178.5,349.2 1178.5,336.9 1180.4,336.9 1180.4,323.3 1182.3,323.3 1182.3,308.4 1185.2,308.4 1185.2,273.4 1187.8,273.4 1187.8,262.6 1189.3,262.6 1189.3,259.1 1190.9,259.1 1190.9,252 1192.9,252 1192.9,252 1194.9,252 1194.9,251 1197.5,251 1197.5,243.6 1199.3,243.6 1199.3,242.9 1201.1,242.9 1201.1,243.7 1202.9,243.7 1202.9,244" stroke="#90ee90" stroke-width="2.5"/>
<polyline points="1217.1,241 1219.2,241 1219.2,240.4 1221.2,240.4 1221.2,238 1223.3,238 1223.3,235.1 1225.5,235.1 1225.5,237.1 1227.8,237.1 1227.8,236.8 1230,236.8 1230,237.8 1232.2,237.8 1232.2,237.4 1234,237.4 1234,236.5 1235.8,236.5 1235.8,235.4 1237.5,235.4 1237.5,232.8 1239.3,232.8 1239.3,230.7 1241.1,230.7 1241.1,229 1242.8,229 1242.8,222.3 1244.6,222.3 1244.6,219.4 1246.4,219.4 1246.4,216.6 1248.2,216.6 1248.2,213.3 1250,213.3 1250,211.7 1251.7,211.7 1251.7,210.9 1253.5,210.9 1253.5,209 1255.3,209 1255.3,206.8 1257.1,206.8 1257.1,201.4 1258.9,201.4 1258.9,196.6 1261.5,196.6 1261.5,208.3 1262,208.3 1262,189.2 1264.5,189.2 1264.5,170 1266.3,170 1266.3,145.5 1268.4,145.5 1268.4,135.1 1270.5,135.1 1270.5,133.6 1271.6,133.6 1271.6,141.3 1272.7,141.3 1272.7,156.9 1273.8,156.9 1273.8,187.2 1274.9,187.2 1274.9,238.6 1276.6,238.6 1276.6,285.4 1279.2,285.4 1279.2,331.1 1281,331.1 1281,352.6 1282.7,352.6 1282.7,376.5 1284.5,376.5 1284.5,399.5 1286.3,399.5 1286.3,406.1 1288.1,406.1 1288.1,414.8 1289.9,414.8 1289.9,419.1 1292,419.1 1292,424.4 1294.1,424.4 1294.1,425.7 1296.3,425.7 1296.3,431.7 1298.4,431.7 1298.4,433.1 1300.5,433.1 1300.5,438.9 1302.5,438.9 1302.5,439.1 1304.5,439.1 1304.5,442.1 1306.5,442.1 1306.5,444.7 1308.5,444.7 1308.5,447.3 1310.5,447.3 1310.5,447.3 1312.4,447.3 1312.4,444.8 1314.4,444.8 1314.4,441.7 1316.3,441.7 1316.3,440.6 1318.3,440.6 1318.3,439.7 1320.5,439.7 1320.5,436.7 1322.8,436.7 1322.8,432.5 1325,432.5 1325,427.9 1327.2,427.9 1327.2,425 1329,425 1329,429.4 1330.8,429.4 1330.8,433.4 1332.5,433.4 1332.5,437.6 1334.3,437.6 1334.3,441.3 1336.1,441.3 1336.1,443.6 1338.2,443.6 1338.2,441.5 1340.3,441.5 1340.3,440.2 1342.5,440.2 1342.5,438.7 1344.6,438.7 1344.6,436.9 1346.7,436.9 1346.7,437.1 1348.5,437.1 1348.5,437.3 1350.3,437.3 1350.3,440.6 1352.1,440.6 1352.1,440.8 1354.2,440.8 1354.2,441.6 1356.2,441.6 1356.2,446.4 1358.3,446.4 1358.3,447.5 1360.4,447.5 1360.4,448.1 1362.4,448.1 1362.4,452.9 1364.5,452.9 1364.5,454.9 1366.3,454.9 1366.3,455.7 1368,455.7 1368,454.9 1369.8,454.9 1369.8,454.4 1371.6,454.4 1371.6,455.1 1373.6,455.1 1373.6,457.9 1375.5,457.9 1375.5,460.1 1377.5,460.1 1377.5,461.6 1379.4,461.6 1379.4,462.4 1381.4,462.4 1381.4,463.9 1383.4,463.9 1383.4,464.5 1385.4,464.5 1385.4,462.6 1387.4,462.6 1387.4,460.4 1389.4,460.4 1389.4,457.1 1391.5,457.1 1391.5,457.3 1393.5,457.3 1393.5,459.4 1395.6,459.4 1395.6,462.2 1397.7,462.2 1397.7,464.9 1399.7,464.9 1399.7,466 1401.8,466 1401.8,465.7 1403.9,465.7 1403.9,469.3 1406,469.3 1406,469.5 1408.2,469.5 1408.2,468.3 1410.5,468.3 1410.5,468.9 1412.8,468.9 1412.8,467.2 1415,467.2 1415,467.1 1417.5,467.1 1417.5,458 1420,458 1420,450.6 1422,450.6 1422,452.1 1424,452.1 1424,449.3 1426,449.3 1426,449.2 1428,449.2 1428,446.6 1429.8,446.6 1429.8,448.9 1431.5,448.9 1431.5,450.3 1433.2,450.3 1433.2,455 1435,455 1435,455.2 1437,455.2 1437,453.6 1439,453.6 1439,448.5 1441,448.5 1441,445.6 1443,445.6 1443,441.7 1444.8,441.7 1444.8,447.9 1446.5,447.9 1446.5,452.8 1448.2,452.8 1448.2,456.2 1450,456.2 1450,460.5 1452,460.5 1452,459.9 1454,459.9 1454,462.8 1456,462.8 1456,460.8 1458,460.8 1458,459 1460,459 1460,457.7 1462,457.7 1462,455.7 1464,455.7 1464,452.3 1466,452.3 1466,454.6 1468,454.6 1468,454.4 1470,454.4 1470,455.6 1472,455.6 1472,458.1 1474,458.1 1474,459.9 1476,459.9 1476,462.2 1478,462.2 1478,463.6 1480,463.6 1480,467.9 1482,467.9 1482,470.1 1484,470.1 1484,473.5 1486,473.5 1486,470.2 1488,470.2 1488,466.8 1490,466.8 1490,464.9 1492,464.9 1492,462.6 1494,462.6 1494,464 1496,464 1496,466.6 1498,466.6 1498,469.8 1500,469.8 1500,473.3 1502,473.3 1502,474.6 1504,474.6 1504,473 1506,473 1506,469.9 1508,469.9 1508,469.9 1510,469.9 1510,465.8 1512.2,465.8 1512.2,464.2 1514.5,464.2 1514.5,460.8 1516.8,460.8 1516.8,459.8 1519,459.8 1519,459.5 1520.5,459.5 1520.5,465.1 1522,465.1 1522,471.3 1524.5,471.3 1524.5,479.9 1527,479.9 1527,493.2 1529.5,493.2 1529.5,482.5 1532,482.5 1532,470.6 1534,470.6 1534,474.3 1536,474.3 1536,479.8 1538,479.8 1538,481.6 1540,481.6 1540,485.2 1541.8,485.2 1541.8,483 1543.5,483 1543.5,479 1545.2,479 1545.2,475.3 1547,475.3 1547,471.8 1548.8,471.8 1548.8,475.7 1550.5,475.7 1550.5,478.7 1552.2,478.7 1552.2,480.8 1554,480.8 1554,485.4 1556,485.4 1556,483.5 1558,483.5 1558,483.8 1560,483.8 1560,484.4 1562,484.4 1562,483.4 1563.5,483.4 1563.5,478.5 1565,478.5 1565,471.9 1566.8,471.9 1566.8,469.3 1568.5,469.3 1568.5,467.8 1570.2,467.8 1570.2,465.9 1572,465.9 1572,464.3 1573.8,464.3 1573.8,466.9 1575.5,466.9 1575.5,469 1577.2,469 1577.2,471.8 1579,471.8 1579,476.2 1581,476.2 1581,468.6 1583,468.6 1583,469.8 1585,469.8 1585,465.8 1587,465.8 1587,464.4 1589,464.4 1589,463.8 1590.5,463.8 1590.5,470.6 1592,470.6 1592,473.1 1593.8,473.1 1593.8,471.8 1595.5,471.8 1595.5,473.3 1597.2,473.3 1597.2,471.8 1599,471.8 1599,469.8 1601,469.8 1601,475.2 1603,475.2 1603,477.3 1605,477.3 1605,480.6 1607.5,480.6 1607.5,480.3 1610,480.3 1610,483.4 1612.5,483.4 1612.5,478 1615,478 1615,475.2 1617,475.2 1617,476.2 1619,476.2 1619,477.6 1621,477.6 1621,477.4 1622.5,477.4 1622.5,477 1624,477 1624,481.3 1626.5,481.3 1626.5,475.8 1629,475.8 1629,467.7 1631,467.7 1631,464.2 1633,464.2 1633,461.4 1635,461.4 1635,460.6 1637.5,460.6 1637.5,463.7 1640,463.7 1640,470.1 1642.5,470.1 1642.5,473 1645,473 1645,474.7 1647,474.7 1647,471.1 1649,471.1 1649,468.5 1651,468.5 1651,466 1653.2,466 1653.2,466.1 1655.5,466.1 1655.5,467.5 1657.8,467.5 1657.8,470.8 1660,470.8 1660,474.5 1662.5,474.5 1662.5,475.1 1665,475.1 1665,473.6 1667,473.6 1667,469.2 1669,469.2 1669,463.3 1670.5,463.3 1670.5,458.1 1672,458.1 1672,450.5 1673.5,450.5 1673.5,455.4 1675,455.4 1675,461.9 1676.5,461.9 1676.5,474.4 1678,474.4 1678,485.3 1679.5,485.3 1679.5,476.4 1681,476.4 1681,471.4 1683,471.4 1683,472 1685,472 1685,471.7 1687.5,471.7 1687.5,469 1690,469 1690,466.8 1691.8,466.8 1691.8,469 1693.5,469 1693.5,469.7 1695.2,469.7 1695.2,472.5 1697,472.5 1697,474.4 1699,474.4 1699,476.3 1701,476.3 1701,474.2 1703,474.2 1703,475 1705,475 1705,477.3 1707.5,477.3 1707.5,473.9 1710,473.9 1710,471.9 1712.5,471.9 1712.5,479.8 1715,479.8 1715,486.6 1717.5,486.6 1717.5,486.9 1720,486.9 1720,485.6 1721.5,485.6 1721.5,475.8 1723,475.8 1723,466.4 1725,466.4 1725,468.4 1727,468.4 1727,467.7 1728.5,467.7 1728.5,469.7 1730,469.7 1730,475.2 1732,475.2 1732,460.6 1734.5,460.6 1734.5,457.9 1737,457.9 1737,455.1 1739,455.1 1739,463.5 1741,463.5 1741,470.3 1743,470.3 1743,472.8 1745,472.8 1745,473.3 1747,473.3 1747,476.5 1749,476.5 1749,469.1 1751,469.1 1751,465" stroke="#90ee90" stroke-width="2.5"/>
<polyline points="274.2,457.9 275.2,456.5 276.1,453.9 277.1,455.5 278.1,457.9 279,455 280,455.5 280.8,449.7 281.5,448.1 282.2,451.5 283,453.8 284.1,453 285.2,450.6 286.4,453.7 287.5,450 288.8,452.3 290,456.1 291,456 292,454 293,457.9 294,456.3 294.9,457 295.8,451.1 296.6,449.9 297.5,446.4 298.5,454.8 299.5,457.7 300.8,452.3 302,443.1 303.1,448.9 304.2,450.4 305.4,453.3 306.5,451.2 307.4,455.2 308.2,455.2 309.1,453.1 310,450.7 310.9,449.6 311.8,445.4 312.6,442.8 313.5,444.9 314.4,445.7 315.2,449.5 316.1,448.1 317,451.5 318,454.2 319,450.3 320,452.9 321,452.7 322,451.7 323,455 324,454.1 325,452.2 326,454 327,454.9 328,449.3 329,454.3 330,449.6 331,451.6 332,451.3 333,451.3 334,450.4 335,443.7 336,451.1 337,457.6 338,455.1 339,449.4 340,447.7 341.1,451.6 342.2,449.4 343.2,452.2 344.3,448.3 345.4,449.5 346.5,448.4 347.5,450.5 348.5,457 349.6,458.5 350.8,459 351.9,464.1 353,463.7 354,459 355,456.3 356,455.2 357,453.9 358,453.1 359,452 360,455.7 361,452.2 362,451.8 363,451.4 364,454.2 365,456 366.1,456.7 367.1,456.7 368.2,454.6 369.2,455.5 370.3,453.1 371.4,453 372.4,453.3 373.5,453 374.5,455.2 375.5,458.7 376.5,462.2 377.6,460.7 378.6,457.1 379.6,455.6 380.7,455.9 381.8,455.1 382.8,458 383.9,457.4 384.9,452.7 385.9,455.6 387,455.2 388,454.8 388.9,455.2 389.9,454.8 390.8,457.4 391.8,456.2 392.8,457.6 393.7,460.5 394.7,458.8 395.6,463.8 396.6,461.1 397.5,460.7 398.5,464.7 399.6,462 400.7,462.2 401.8,462.3 402.8,459.5 403.9,458.8 405,461 406.1,460 407.2,452.6 408.4,450.1 409.5,447.7 410.4,449.6 411.2,451.3 412.1,456.7 413,458.1 414,459.2 415,462.2 416,461.2 417,459.4 418,460.6 419,455.4 420,455.7 421,457.4 422,456.4 423,459.4 424,459.1 425,463.2 426.1,458.9 427.2,458.9 428.3,457.8 429.1,459 430,463.5 431.2,459.3 432.5,461 433.6,458.8 434.6,455.8 435.6,457.6 436.7,461.3 437.7,461.6 438.8,463.8 439.8,460.5 440.8,461.7 441.8,460.5 442.8,462.6 443.8,462.4 444.8,456.4 445.8,455 447.1,459.3 448.3,459.7 449.4,458 450.6,455.9 451.7,456.8 452.9,452.5 454.2,455.4 455.3,455.3 456.4,460.6 457.5,463.4 458.6,460.5 459.6,465.7 460.6,463.8 461.7,463 462.5,465.5 463.3,463.8 464.3,460.6 465.3,462.2 466.3,461.6 467.3,466.3 468.3,466 469.4,465.1 470.6,466.1 471.7,464.5 472.8,460.4 473.9,464.4 475,461.8 476.1,459 477.1,454.6 478.1,454.2 479,457.3 480,456.1 481.1,462.2 482.2,462.6 483.3,459.9 484.4,462.1 485.6,459.9 486.7,460.9 487.7,462.8 488.7,461.3 489.7,462.8 490.7,466.1 491.7,466.3 492.7,465.7 493.7,466.2 494.7,462.6 495.7,464.6 496.7,464.7 497.7,466.7 498.6,461.2 499.6,465.5 500.6,464.9 501.5,464.2 502.5,463.8 503.6,460.9 504.6,458.5 505.6,452.7 506.7,450.6 507.8,451.4 508.9,457.6 510,458.7 510.9,462.7 511.7,462 512.8,464.7 513.9,461.5 515,463.8 516,462.1 517,457.3 518,458.7 519,457.6 520,455.9 521,457.3 522,456.8 523,463.4 524,459.4 525,464.8 526.1,463.4 527.2,460.3 528.3,459.8 529.3,463 530.2,460.5 531.2,458.9 532.1,460.7 533.1,461.7 534,458 535,461.8 536,457.4 537.1,458 538.2,457.9 539.2,456.3 540.2,453 541.2,456.3 542.2,454 543.2,453.9 544.2,454.8 545.2,453.7 546.2,454.5" stroke="#006400" stroke-width="1.25"/>
<polyline points="566.3,469 567.4,468.9 568.5,465.2 569.5,463.1 570.6,459.9 571.5,461.5 572.5,458 573.5,461.3 574.4,456 575.3,459.3 576.3,453.1 577.2,454.2 578.2,454 579.1,455.4 580.2,457.9 581.3,457.9 582.3,458.9 583.3,459.3 584.3,454.3 585.3,457.3 586.3,456.4 587.3,450.7 588.4,439.6 589.5,436.1 590.5,427.7 591.5,431.4 592.4,431 593.4,427.1 594.5,431.7 595.5,429.9 596.5,425.7 597.6,428.8 598.5,425.7 599.4,432.1 600.3,431.8 601.2,430.1 602.2,433.5 603.2,429.1 604.2,426.2 605.2,425.4 606.2,423.5 607.6,415.7 608.7,410 609.8,409 610.8,401.1 611.9,394.6 612.9,389.9 613.9,390 614.9,382.2 616,383.2 617,377.8 618,372.6 619,368.4 619.9,360.3 620.9,357.8 621.8,347.9 622.7,346.4 623.7,348.6 624.6,349.9 625.6,350.1 626.5,346.1 627.5,344.9 628.4,345.8 629.4,338.5 630.3,336.3 631.2,328.8 632.2,324.1 633.1,321.9 634.1,317.7 635.1,314.1 636,310.4 637,312.7 638.1,307 639.1,303.2 640.2,298.7 641.3,297.7 642.2,290.4 643.1,285.2 644,282.1 645.1,281.4 646.2,280 647.3,279.3 648.4,282.2 649.5,282 650.5,288.2 651.4,285.2 652.2,284.5 653.1,281.8 654,276.4 655.1,278.1 656.1,270.7 657.2,270.2 658.3,270 659.4,269.3 660.5,272.5 661.5,271.1 662.6,273.6 664,274.9 665,267.7 665.9,262.7 666.9,254.9 667.8,250.1 668.8,248.7 669.7,242.4 670.8,241.9 671.9,235.6 672.9,231.2 674,230.7 675,227.7 676.1,226.3 677.2,227.2 678.2,226 679.1,222.7 680,223.4 680.9,223.3 681.8,224.7 682.7,227 683.5,230 684.4,232.8 685.3,238.7 686.2,236.6 687.2,236.1 688.1,236.7 689.1,240.7 690,238.4 691,239 692,239.3 692.9,240.1 693.9,247.1 694.8,242.9 695.8,245.7 696.7,247.1 697.7,248.7 698.6,253.7 699.6,250.3 700.6,256.7 701.7,254.9 702.8,255.9 703.8,257.1 704.8,257.6 705.9,251.6 706.9,251.7 707.9,248.3 708.9,249.6 710,245.1 711,247.2 711.9,244.6 712.9,246.3 713.8,245 714.7,242.6 715.7,237.9 716.6,239.2 717.7,234.5 718.8,227.2 719.9,221.1 721,211.9 722,209.7 723,209.9 723.8,233.2 724.5,251.1 725.4,255.7 726.2,252.8 727.1,253 728,254.4 729.1,241.6 730.2,226.1 731.1,236.3 732.1,244.7 733,248.9 733.9,250.1 734.8,246.9 735.7,244.5 736.6,240.3 737.5,241.2 738.5,238.4 739.4,241.9 740.3,245.7 741.3,246.2 742.2,241.3 743.2,246.9 744.1,242 745.1,243.5 746.1,242 747,242.3 748,244.7 748.9,244.7 749.9,240.5 750.8,241.5 751.7,238.7 752.7,235.4 753.6,233.6 755,236.9 756,229.7 757,227.8 758,227.6 759,230.1 759.9,238.5 760.9,241.7 761.9,244.7 762.9,242.5 763.8,247.6 764.8,245.4 765.8,251.2 766.8,243.6 767.7,235 768.7,227.9 769.7,227.5 770.6,225.7 771.6,222 772.6,231 773.5,233.2 774.5,240.8 775.5,245.4 776.5,245.2 777.5,248.9 778.5,248.3 779.4,247.4 780.4,244.9 781.4,245.2 782.4,245.4 783.3,246.9 784.3,253.3 785.3,252.2 786.3,257.9 787.2,261.1 788.2,258.3 789.2,256.8 790.2,252.8 791.2,250.1 792.1,251.7 793.1,246.9 794.1,243.8 795.1,244.5 796,248.2 797,249.8 798,250.3 799,250.4 800,250.4 800.9,250.8 801.9,252 802.9,252.6 803.9,246.7 804.8,244.3 805.8,243.6 806.8,239.5 807.8,240.8 808.8,247.2 809.7,252.5 810.7,258.2 811.7,253.1 812.7,251.7 813.7,253.2 814.7,253.4 815.6,247.6 816.6,248.1 817.6,249 818.6,246 819.6,246.1 820.5,253 821.5,253.5 822.4,252.6 823.4,253.5 824.5,252.5 825.5,252.2 826.6,250.8 827.7,250.3 828.7,242.2 829.8,243.5 830.9,249.9 832.1,250.8 833.2,256.5 834.2,258.7 835.2,255.2 836.1,255 837.1,249.1 838.1,251.2 839.1,254.3 840,254.8 841,255.1 842,263.3 843,259.1 844,255.6 845,250.9 846,257.5 847,260.3 847.9,266.1 848.9,277.3 849.9,271 850.9,266.1 851.8,261.7 852.8,254 853.8,252.7 854.8,254.3 855.7,254.9 856.7,252.6 857.6,252.3 858.6,255.4 859.6,255.6 860.6,262.3 861.5,265.8 862.5,264.9 863.5,268.7 864.5,266.7 865.5,260.3 866.5,262.8 867.5,266.3 868.4,266 869.4,270.2 870.4,267.2 871.4,269.7 872.3,269.3 873.3,265.9 874.3,263.3 875.2,265.6 876.2,263.1 877.2,258.3 878.2,257.5 879.2,261.5 880.2,255.7 881.1,258.6 882.1,256.4 883.1,258.2 884.1,252.9 885.1,263.1 886,267.2 887,273.7 888,278.2 889,273.8 890,270.5 890.9,264.2 891.9,262.5 892.9,258.5 893.9,261.8 894.9,267.8 895.8,270.5 896.8,269.6 897.8,275.4 898.8,277.5 899.7,282.4 900.7,283.1 901.7,280.4 902.7,278.9 903.6,276.3 904.6,271.1 905.6,271.2 906.5,269.8 907.5,266.4 908.5,264.1 909.2,265.9 910,269.7 911,270.8 912,274.7 912.9,273.8 913.9,277.5 914.9,266.6 915.9,264.8 916.9,257.8 917.8,257.1 918.8,256.8 919.8,257.1 920.8,257 921.7,258.1 922.7,258.1 923.7,257 924.6,253.7 925.6,258.2 926.4,243.6 927.1,236.6 928.1,238.4 929.1,238.5 930,251.5 931,265.6 932.2,258.3 933.5,252.8 934.5,258.3 935.5,260.7 936.4,259.2 937.4,262 938.4,267.9 939.4,261.1 940.3,259.2 941.3,250.1 942.4,255.6 943.5,260.9 944.5,267.6 945.6,273.3 946.7,273.2 947.8,266.3 948.9,265.1 950,257.5 951.1,252.9 952.1,255.9 953,258.5 954,263.7 955,266.3 956,267.4 957,262.2 957.9,259.5 958.9,262.4 959.9,260.5 960.9,260 961.8,268.8 962.8,271.6 963.8,268.5 964.8,271.9 965.8,265.7 966.7,265.3 967.7,264.1 968.7,262.8 969.6,270.5 970.6,270.4 971.6,266.3 972.5,263.5 973.5,257.7 974.5,258.7 975.5,256.1 976.5,260.6 977.4,260 978.4,261 979.4,266.4 980.4,264.5 981.4,268.4 982.3,271.4 983.3,272.3 984.3,275.7 985.3,277.2 986.3,276.9 987.3,274 988.2,270.8 989.2,264.9 990.2,259.3 991.1,259.8 992.1,255.7 993.1,257.1 994.1,253.3 995,257.3 996,256.7 997,260.1 998,260.5 999,261.2 1000,260 1000.9,266.3 1001.9,267.8 1002.9,269.3 1003.9,266.5 1004.8,264.8 1005.8,267.4 1006.8,266.9 1007.8,268.3 1008.8,268.3 1009.7,274.7 1010.7,280.1 1011.7,273.5 1012.7,264.5 1013.6,263.2 1014.6,254.3 1015.6,262 1016.6,265.8 1017.6,263.9 1018.5,270.4 1019.5,274.3 1020.5,276.4 1021.5,280.8 1022.5,270.2 1023.4,259.3 1024.4,250.7 1025.4,251.5 1026.3,259.7 1027.3,259 1028.3,257.9 1029.3,256.1 1030.2,259.8 1031.2,256.3 1032.2,253.1 1033.2,255.1 1034.2,255.2 1035.1,253.1 1036.1,253.8 1037.1,248.1 1038.1,255.2 1039.1,257.1 1040,253.9 1041,255.7 1042,260.1 1043,262 1044,263.4 1044.9,264.5 1045.9,267.3 1046.9,270 1047.9,271.7 1048.9,272.6 1049.8,275.2 1050.8,278.9 1051.8,278.1 1052.8,282.7 1053.7,280.1 1054.7,283 1055.7,284.6 1056.7,280.1 1057.7,278.2 1058.6,272.7 1059.6,270.4 1060.6,267.8 1061.6,269 1062.5,272.3 1063.5,273.1 1064.5,273.1 1065.5,275 1066.5,275 1067.4,279.9 1068.4,281 1069.4,277.8 1070.4,282.3 1071.3,280.6 1072.3,281 1073.2,277.7 1074.2,278.8 1075.2,274 1076.1,273.8 1077.1,277.4 1078,274.1 1079,276.1 1079.9,272.9 1080.9,270.3 1081.8,270.6 1082.8,270.6 1083.7,270.8 1084.5,262.9 1085.4,262.3 1086.3,257.4 1087.2,263.7 1088.1,269 1089,273 1089.9,274.2 1091,277.5 1092,284.5 1093,283.8 1094.1,290 1095.1,287.7 1096.2,284 1097.2,282.2 1098.2,281.7 1099.2,277.6 1100.3,278 1101.3,276.7 1102.3,274.3 1103.4,276.8 1104.5,278.6 1105.5,281 1106.5,282.4 1107.4,284.7 1108.3,291.2 1109.3,293.5 1110.2,296.6 1111.2,298.6 1112.3,296.5 1113.3,295.6 1114.4,300.3 1115.5,303.8 1116.6,296.1 1117.6,293.1 1118.7,290.7 1119.8,290.2 1120.8,286.4 1121.9,284.2 1122.8,294.3 1123.7,301 1124.5,307.6 1125.4,314.5 1126.5,313.2 1127.6,317 1128.6,314.5 1129.7,314 1130.6,323 1131.6,329.8 1132.5,333.5 1133.6,331.8 1134.7,325.9 1135.8,335.2 1136.8,339.7 1137.9,343.5 1139,348 1140,339.5 1141.1,334.4 1142.2,321.1 1143.2,314.5 1144.2,305.3 1145.3,291.2 1146.4,298.7 1147.4,298.1 1148.5,300.2 1149.6,306 1150.7,313.3 1151.8,317.6 1152.8,319.2 1153.9,326.2 1155,329.1 1156,336.1 1157,344.3 1158.1,348.3 1159,350.8 1160,346 1160.9,340.1 1161.9,340.4 1162.8,336.2 1163.8,332.7 1164.8,333.4 1165.7,336.4 1166.7,339.8 1167.6,335.2 1168.5,336.1 1169.5,341.9 1170.6,334.3 1171.7,331.3 1172.7,330 1173.8,327.8 1174.9,319 1175.9,316 1177,303.9 1178.1,299.5 1178.9,270.9 1179.8,242.1 1180.7,253 1181.5,264.5 1182.4,267.6 1183.3,269.7 1184.2,258.1 1185.1,242.2 1186,232.9 1186.9,219.4 1187.8,201.7 1188.7,193 1189.6,195.5 1190.5,205.3 1191.3,208.8 1192.2,213.8 1193.1,201.5 1194,188.9 1194.9,181.2 1196,173.2 1197.1,162.4 1198.2,151.5 1199.3,145.3 1200.2,121.3 1201.1,90.7 1202,82.6 1203,70.6 1204.2,82.2 1205.5,94.4 1206.8,76.7 1208,60" stroke="#006400" stroke-width="1.25"/>
<polyline points="1220.6,225 1221.5,226.9 1222.4,228.7 1223.3,229.8 1224.3,226 1225.3,222.9 1226.3,223 1227.4,221.5 1228.4,220.9 1229.4,216.2 1230.4,217.8 1231.4,216.2 1232.4,223.1 1233.4,222.9 1234.5,227.6 1235.5,230.6 1236.5,239.3 1237.5,241.1 1238.6,242.7 1239.7,247 1240.7,249.9 1241.8,248.9 1242.9,254.2 1243.8,242.7 1244.7,237.2 1245.5,230 1246.4,219.3 1247.3,195.9 1248.2,171.4 1249.1,180.9 1250,198.2 1250.9,208.2 1251.8,208.7 1252.6,208.4 1253.5,208.7 1254.6,210.7 1255.7,205.6 1256.7,206.1 1257.8,199.8 1258.9,198.5 1259.8,185.8 1260.7,177.3 1261.5,169 1262.4,155.1 1263.3,118.8 1264.2,78 1265.1,84 1266,91.7 1266.9,102.7 1268,71.2 1268.8,112.6 1269.5,151.6 1270.4,173.6 1271.3,198.1 1272.2,214.4 1273.1,225.3 1274,241.2 1274.9,255.2 1275.8,261 1276.7,272.8 1277.5,274.9 1278.4,287.5 1279.2,327.2 1280.1,349.5 1281,362.8 1281.9,377.9 1282.8,385.7 1283.7,391.2 1284.5,394.4 1285.4,399.9 1286.5,404.8 1287.7,406.1 1288.8,410.1 1289.9,416.2 1290.9,417 1291.9,421.6 1292.9,421.5 1294,425.5 1295,426.7 1296,427.1 1297,430.2 1297.9,430.3 1298.8,428.8 1299.6,429.2 1300.5,428 1301.6,428.4 1302.7,425.9 1303.7,429.8 1304.8,430.3 1305.9,427.1 1306.9,431.2 1308,429.5 1309,429.1 1310,428.7 1311.1,433.3 1312.1,434.1 1313.1,433 1314.2,430.5 1315.2,427.6 1316.2,426 1317.3,428.7 1318.3,427.9 1319.3,427.6 1320.3,424.6 1321.3,420.9 1322.4,421.3 1323.4,413.4 1324.4,416.8 1325.4,412.1 1326.3,411.1 1327.2,411.4 1328.1,409.1 1329.2,415 1330.3,422.3 1331.4,426.1 1332.5,432.5 1333.4,430.7 1334.3,429.6 1335.2,432.2 1336.1,434.5 1337.2,427.5 1338.2,424.9 1339.3,420.8 1340.3,414.6 1341.4,408 1342.3,420.8 1343.2,428" stroke="#006400" stroke-width="1.25"/>
<polyline points="1375.2,431 1376.2,435.1 1377.2,431.7 1378.2,437.8 1379.3,438.8 1380.3,436 1381.3,438.8 1382.3,439.4 1383.4,437.7 1384.4,438.1 1385.5,436.6 1386.5,431.3 1387.6,431.3 1388.5,436.1 1389.4,439.6 1390.3,440.7 1391.2,446.3 1392.3,444.2 1393.3,443.9 1394.4,440.5 1395.4,436.8 1396.5,431.7 1397.4,435.9 1398.2,431.9 1399.1,432.8 1400,431.9 1401,434 1402,434.8 1403,433.7 1404,434 1405,432 1406,430.4 1407,426.8 1408,429.8 1409,434.3 1410,437.1 1411,443 1412,443.1 1413,443.8 1414,443.8 1415,444.9 1416,444.9 1417,442.3 1418,443.8 1419,438.1 1420,437.1 1421,435.9 1422,430.7 1423,426.6 1424,428 1425,429.6 1426,429 1427,438 1428,445.4 1429,437.8 1430,428.9 1431,429.4 1432,436.3 1433,433.2 1434,437.3 1435,434.2 1436,432" stroke="#006400" stroke-width="1.25"/>
<polyline points="1452,432 1453,433.2 1454,437.4 1455,436.7 1456,434.1 1457,435.3 1458,431.8 1459,432.2 1460,428.7 1461,430.5 1462,425.7 1463,426.6 1464,429.9 1465,424.2 1466,425.5 1467,423.7 1468,424.3 1469,426.4 1470,429.7 1471,430.7 1472,428.9 1473,433.6 1474,433.8 1475,433.6 1476,436.6 1477,432.9 1478,429.4 1479,429 1480,428.4 1481,424.8 1482,428.3 1483,427.2 1484,427.6 1485,434.2 1486,432.4 1487,435 1488,434.5 1489,427.8 1490,428.2 1491,429.7 1492,430.8 1493,438.2 1494,435.6 1495,437.6 1496,435.4 1497,433.3 1498,428.5 1499,425.7 1500,432.8 1501,431.2 1502,433.5 1503,435.1 1504,441.9 1505,441.3 1506,441.3 1507,441.9 1508,446.1 1509,445.2 1510,443 1511,443.9 1512,442.4 1513,440.2 1514,440.5 1515,433.3 1516,431.4 1517,433.7 1518,439 1519,441.4 1520,441 1521,445.3 1522,444.3 1523,443.8 1524,443.7 1525,441.8 1526,441.6 1527,440.8 1528,440.5 1529,447.7 1530,451.5 1531,450.4 1532,445.1 1533,447.4 1534,443.5 1535,445.2 1536,442 1537,441 1538,439 1539,434.1 1540,438.8 1541,441.1 1542,444.6 1543,450.6 1544,450.6 1545,451.1 1546,457.3 1547,456.4 1548,457.5 1549,461.3 1550,458 1551,455.9 1552,453.4 1553,451 1554,446.7 1555,442.9 1556,441.2 1557,442.9 1558,442.6 1559,443.1 1560,441.1 1561,441.8 1562,436.1 1563,439.7 1564,441.6 1565,445.5 1566,448.4 1567,448.9 1568,448.6 1569,451.4 1570,449.8 1571,452.6 1572,450.4 1573,455.9 1574,456.6 1575,451.7 1576,454.4 1577,450.6 1578,450.6 1579,449.1 1580,441.4 1581,448.1 1582,453.1 1583,459.7 1584,459.4 1585,455.8 1586,452.2 1587,453 1588,450.9 1589,451.6 1590,448.9 1591,447.4 1592,447.1 1593,449 1594,449.8 1595,457 1596,456.5 1597,458.1 1598,458.7 1599,459.9 1600,456.5 1601,453.8 1602,456.3 1603,456.6 1604,454.6 1605,452.6 1606,452.6 1607,453.1 1608,457.7 1609,453.3 1610,456.4 1611,451.3 1612,450.7 1613,446.9 1614,453.3 1615,456.9 1616,457 1617,456.7 1618,450.2 1619,453 1620,447.6 1621,447.7 1622,448.4 1623,443.8 1624,442.1 1625,449.1 1626,455.1 1627,452.1 1628,449.7 1629,447.6 1630,444.8 1631,445.9 1632,450.7 1633,455.8 1634,451 1635,446.6 1636,442.3 1637,445.2 1638,444.5 1639,445.2 1640,442 1641,444 1642,447.9 1643,445.6 1644,452.5 1645,451.9 1646,452.3 1647,457 1648,452.5 1649,447.3 1650,444.2 1651,437.4 1652,436.5 1653,436.7 1654,441.9 1655,442.7 1656,450.6 1657,454.4 1658,454 1659,449.3 1660,451.3 1661,447.8 1662,446.5 1663,447.6 1664,449.5 1665,445.9 1666,439.7 1667,436.9 1668,443.2 1669,447.9 1670,451.1 1671,449.4 1672,453.8 1673,453.2 1674,454.2 1675,450.4 1676,441.7 1677,443 1678,443.1 1679,446.7 1680,445.8 1681,443.2 1682,438.2 1683,439.9 1684,443.5 1685,446.8 1686,449.4 1687,448.2 1688,444.1 1689,448.2 1690,447.7 1691,447 1692,444.9 1693,443.6 1694,437.9 1695,434.2 1696,432.9 1697,439.1 1698,436.4 1699,438.8 1700,444.8 1701,447.5 1702,449.7 1703,452 1704,449.3 1705,440.3 1706,443.4 1707,443.6 1708,444.2 1709,451.2 1710,450.3 1711,451.8 1712,447 1713,448.6 1714,446.7 1715,449.3 1716,444.7 1717,442.2 1718,444.9 1719,443.3 1720,442.1 1721,444.3 1722,443.9 1723,443.7 1724,446.1 1725,447.6 1726,450 1727,451.3 1728,448.4 1729,446.2 1730,445.7 1731,445.3 1732,442.5 1733,443.3 1734,444.8 1735,449.7 1736,446.4 1737,443.2 1738,438.4 1739,439.4 1740,442.4 1741,437.6 1742,440.9 1743,438.8 1744,443.2 1745,440.2 1746,437.2 1747,436.5 1748,436.7 1749,432 1750,437.1 1751,439" stroke="#006400" stroke-width="1.25"/>
</g>
<line x1="273.9" y1="93" x2="273.9" y2="517" stroke="#2a2a2a" stroke-width="1.5" stroke-dasharray="4.5 4.6"/>
<line x1="273.9" y1="994" x2="273.9" y2="1009.5" stroke="#2a2a2a" stroke-width="1.5" stroke-dasharray="4.5 4.6"/>
<line x1="1751.6" y1="93" x2="1751.6" y2="1009.5" stroke="#777" stroke-width="0.8"/>
<line x1="1751.6" y1="93" x2="1751.6" y2="1009.5" stroke="#2a2a2a" stroke-width="1.4" stroke-dasharray="4.5 4.6"/>
<line x1="273.9" y1="125.3" x2="273.9" y2="465.8" stroke="#555" stroke-width="0.9"/>
<line x1="273.9" y1="517" x2="273.9" y2="992" stroke="#222" stroke-width="1.3"/>
<line x1="273.2" y1="92.8" x2="1752.3" y2="92.8" stroke="#111" stroke-width="1.5"/>
<line x1="273.2" y1="1009.3" x2="1752.3" y2="1009.3" stroke="#111" stroke-width="1.5"/>
<line x1="262.5" y1="465.8" x2="274" y2="465.8" stroke="#333" stroke-width="1.6"/>
<text x="0" y="0" transform="translate(247.3 465.8) rotate(-90) scale(1 1.04)" text-anchor="middle" font-size="26" fill="#000">0</text>
<line x1="262.5" y1="380.8" x2="274" y2="380.8" stroke="#333" stroke-width="1.6"/>
<text x="0" y="0" transform="translate(247.3 380.8) rotate(-90) scale(1 1.04)" text-anchor="middle" font-size="26" fill="#000">50</text>
<line x1="262.5" y1="295.8" x2="274" y2="295.8" stroke="#333" stroke-width="1.6"/>
<text x="0" y="0" transform="translate(247.3 295.8) rotate(-90) scale(1 1.04)" text-anchor="middle" font-size="26" fill="#000">100</text>
<line x1="262.5" y1="210.8" x2="274" y2="210.8" stroke="#333" stroke-width="1.6"/>
<text x="0" y="0" transform="translate(247.3 210.8) rotate(-90) scale(1 1.04)" text-anchor="middle" font-size="26" fill="#000">150</text>
<line x1="262.5" y1="125.8" x2="274" y2="125.8" stroke="#333" stroke-width="1.6"/>
<text x="0" y="0" transform="translate(247.3 125.8) rotate(-90) scale(1 1.04)" text-anchor="middle" font-size="26" fill="#000">200</text>
<text x="0" y="0" transform="translate(204.6 295) rotate(-90) scale(1 1.04)" text-anchor="middle" font-size="29" fill="#000">IDS scale</text>
<line x1="262.5" y1="530" x2="274" y2="530" stroke="#333" stroke-width="1.6"/>
<text transform="translate(258.5 541) scale(1 1.04)" x="0" y="0" text-anchor="end" font-size="29" fill="#000">IDS 1</text>
<line x1="262.5" y1="562.8" x2="274" y2="562.8" stroke="#333" stroke-width="1.6"/>
<text transform="translate(258.5 573.8) scale(1 1.04)" x="0" y="0" text-anchor="end" font-size="29" fill="#000">IDS 2</text>
<line x1="262.5" y1="595.8" x2="274" y2="595.8" stroke="#333" stroke-width="1.6"/>
<text transform="translate(258.5 606.8) scale(1 1.04)" x="0" y="0" text-anchor="end" font-size="29" fill="#000">IDS 3</text>
<line x1="262.5" y1="628.9" x2="274" y2="628.9" stroke="#333" stroke-width="1.6"/>
<text transform="translate(258.5 639.9) scale(1 1.04)" x="0" y="0" text-anchor="end" font-size="29" fill="#000">eologix</text>
<line x1="262.5" y1="674" x2="274" y2="674" stroke="#333" stroke-width="1.6"/>
<text transform="translate(258.8 682.8) scale(1 1.04)" x="0" y="0" text-anchor="end" font-size="29" fill="#000">Blade tip</text>
<line x1="262.5" y1="699.4" x2="274" y2="699.4" stroke="#333" stroke-width="1.6"/>
<line x1="262.5" y1="733.4" x2="274" y2="733.4" stroke="#333" stroke-width="1.6"/>
<line x1="262.5" y1="758.6" x2="274" y2="758.6" stroke="#333" stroke-width="1.6"/>
<text transform="translate(258.8 767.2) scale(1 1.04)" x="0" y="0" text-anchor="end" font-size="29" fill="#000">Leading edge</text>
<line x1="262.5" y1="784" x2="274" y2="784" stroke="#333" stroke-width="1.6"/>
<line x1="262.5" y1="818" x2="274" y2="818" stroke="#333" stroke-width="1.6"/>
<line x1="262.5" y1="843.4" x2="274" y2="843.4" stroke="#333" stroke-width="1.6"/>
<text transform="translate(258.8 854.4) scale(1 1.04)" x="0" y="0" text-anchor="end" font-size="29" fill="#000">Pressure side</text>
<line x1="262.5" y1="868.8" x2="274" y2="868.8" stroke="#333" stroke-width="1.6"/>
<line x1="262.5" y1="894.2" x2="274" y2="894.2" stroke="#333" stroke-width="1.6"/>
<line x1="262.5" y1="928.4" x2="274" y2="928.4" stroke="#333" stroke-width="1.6"/>
<line x1="262.5" y1="954" x2="274" y2="954" stroke="#333" stroke-width="1.6"/>
<text transform="translate(258.8 965.6) scale(1 1.04)" x="0" y="0" text-anchor="end" font-size="29" fill="#000">Succion side</text>
<line x1="262.5" y1="979.6" x2="274" y2="979.6" stroke="#333" stroke-width="1.6"/>
<line x1="274" y1="1009.5" x2="274" y2="1020.5" stroke="#333" stroke-width="1.6"/>
<text transform="translate(274 1050.5) scale(1 1.04)" x="0" y="0" text-anchor="middle" font-size="29" fill="#000">Friday</text>
<line x1="643" y1="1009.5" x2="643" y2="1020.5" stroke="#333" stroke-width="1.6"/>
<text transform="translate(643 1050.5) scale(1 1.04)" x="0" y="0" text-anchor="middle" font-size="29" fill="#000">Saturday</text>
<line x1="1013" y1="1009.5" x2="1013" y2="1020.5" stroke="#333" stroke-width="1.6"/>
<text transform="translate(1013 1050.5) scale(1 1.04)" x="0" y="0" text-anchor="middle" font-size="29" fill="#000">Sunday</text>
<line x1="1383" y1="1009.5" x2="1383" y2="1020.5" stroke="#333" stroke-width="1.6"/>
<text transform="translate(1383 1050.5) scale(1 1.04)" x="0" y="0" text-anchor="middle" font-size="29" fill="#000">Monday</text>
<rect x="274" y="92.8" width="281.3" height="108" fill="none" stroke="#222" stroke-width="1.5"/>
<rect x="288.5" y="114.3" width="10.5" height="10.3" fill="#006400"/>
<text transform="translate(313.6 128.5) scale(1 1.04)" x="0" y="0" font-size="22" textLength="230.5" lengthAdjust="spacingAndGlyphs" fill="#000">norm. icing index IDS 1</text>
<rect x="288.5" y="141.6" width="10.5" height="10.3" fill="#90ee90"/>
<text transform="translate(313.6 155.5) scale(1 1.04)" x="0" y="0" font-size="22" textLength="230.5" lengthAdjust="spacingAndGlyphs" fill="#000">norm. icing index IDS 2</text>
<rect x="288.5" y="168.9" width="10.5" height="10.3" fill="#ffc0cb"/>
<text transform="translate(313.6 182.5) scale(1 1.04)" x="0" y="0" font-size="22" textLength="230.5" lengthAdjust="spacingAndGlyphs" fill="#000">norm. icing index IDS 3</text>
<rect x="791.3" y="92.8" width="177.5" height="99" fill="none" stroke="#222" stroke-width="1.5"/>
<text transform="translate(879.4 117.7) scale(1 1.04)" x="0" y="0" text-anchor="middle" font-size="21.6" fill="#000">Ice Alarm</text>
<rect x="810" y="136" width="15" height="12.6" fill="#006400"/>
<rect x="810" y="161.2" width="15" height="11.7" fill="#ff0000"/>
<text transform="translate(842.4 150.9) scale(1 1.04)" x="0" y="0" font-size="21.3" fill="#000">ok</text>
<text transform="translate(842.4 175.7) scale(1 1.04)" x="0" y="0" font-size="21.3" textLength="115.8" lengthAdjust="spacingAndGlyphs" fill="#000">turbine_stop</text>
<rect x="1308.3" y="92.8" width="375.2" height="134.8" fill="none" stroke="#222" stroke-width="1.5"/>
<text transform="translate(1496 119.4) scale(1 1.04)" x="0" y="0" text-anchor="middle" font-size="22" textLength="158" lengthAdjust="spacingAndGlyphs" fill="#000">Eologix sensors</text>
<rect x="1329" y="140.2" width="16.2" height="13.6" fill="#ffc0cb"/>
<text transform="translate(1365 155.9) scale(1 1.04)" x="0" y="0" font-size="22" textLength="30.6" lengthAdjust="spacingAndGlyphs" fill="#000">dry</text>
<rect x="1329" y="167.1" width="16.2" height="13.6" fill="#00ff00"/>
<text transform="translate(1365 182.9) scale(1 1.04)" x="0" y="0" font-size="22" textLength="34.2" lengthAdjust="spacingAndGlyphs" fill="#000">wet</text>
<rect x="1329" y="194" width="16.2" height="13.6" fill="#00ffff"/>
<text transform="translate(1365 209.9) scale(1 1.04)" x="0" y="0" font-size="22" textLength="94.7" lengthAdjust="spacingAndGlyphs" fill="#000">ice&lt;1mm</text>
<rect x="1511.3" y="140.1" width="16.3" height="13.6" fill="#0000ff"/>
<text transform="translate(1547.2 156) scale(1 1.04)" x="0" y="0" font-size="22" textLength="127.4" lengthAdjust="spacingAndGlyphs" fill="#000">ice_1-10mm</text>
<rect x="1511.3" y="167.2" width="16.3" height="13.6" fill="#8a2be2"/>
<text transform="translate(1547.2 183.1) scale(1 1.04)" x="0" y="0" font-size="22" textLength="107.9" lengthAdjust="spacingAndGlyphs" fill="#000">ice&gt;10mm</text>
<rect x="1511.3" y="194.3" width="16.3" height="13.6" fill="#a9a9a9"/>
<text transform="translate(1547.2 210.2) scale(1 1.04)" x="0" y="0" font-size="22" textLength="76.8" lengthAdjust="spacingAndGlyphs" fill="#000">missing</text>
</svg></body></html>
